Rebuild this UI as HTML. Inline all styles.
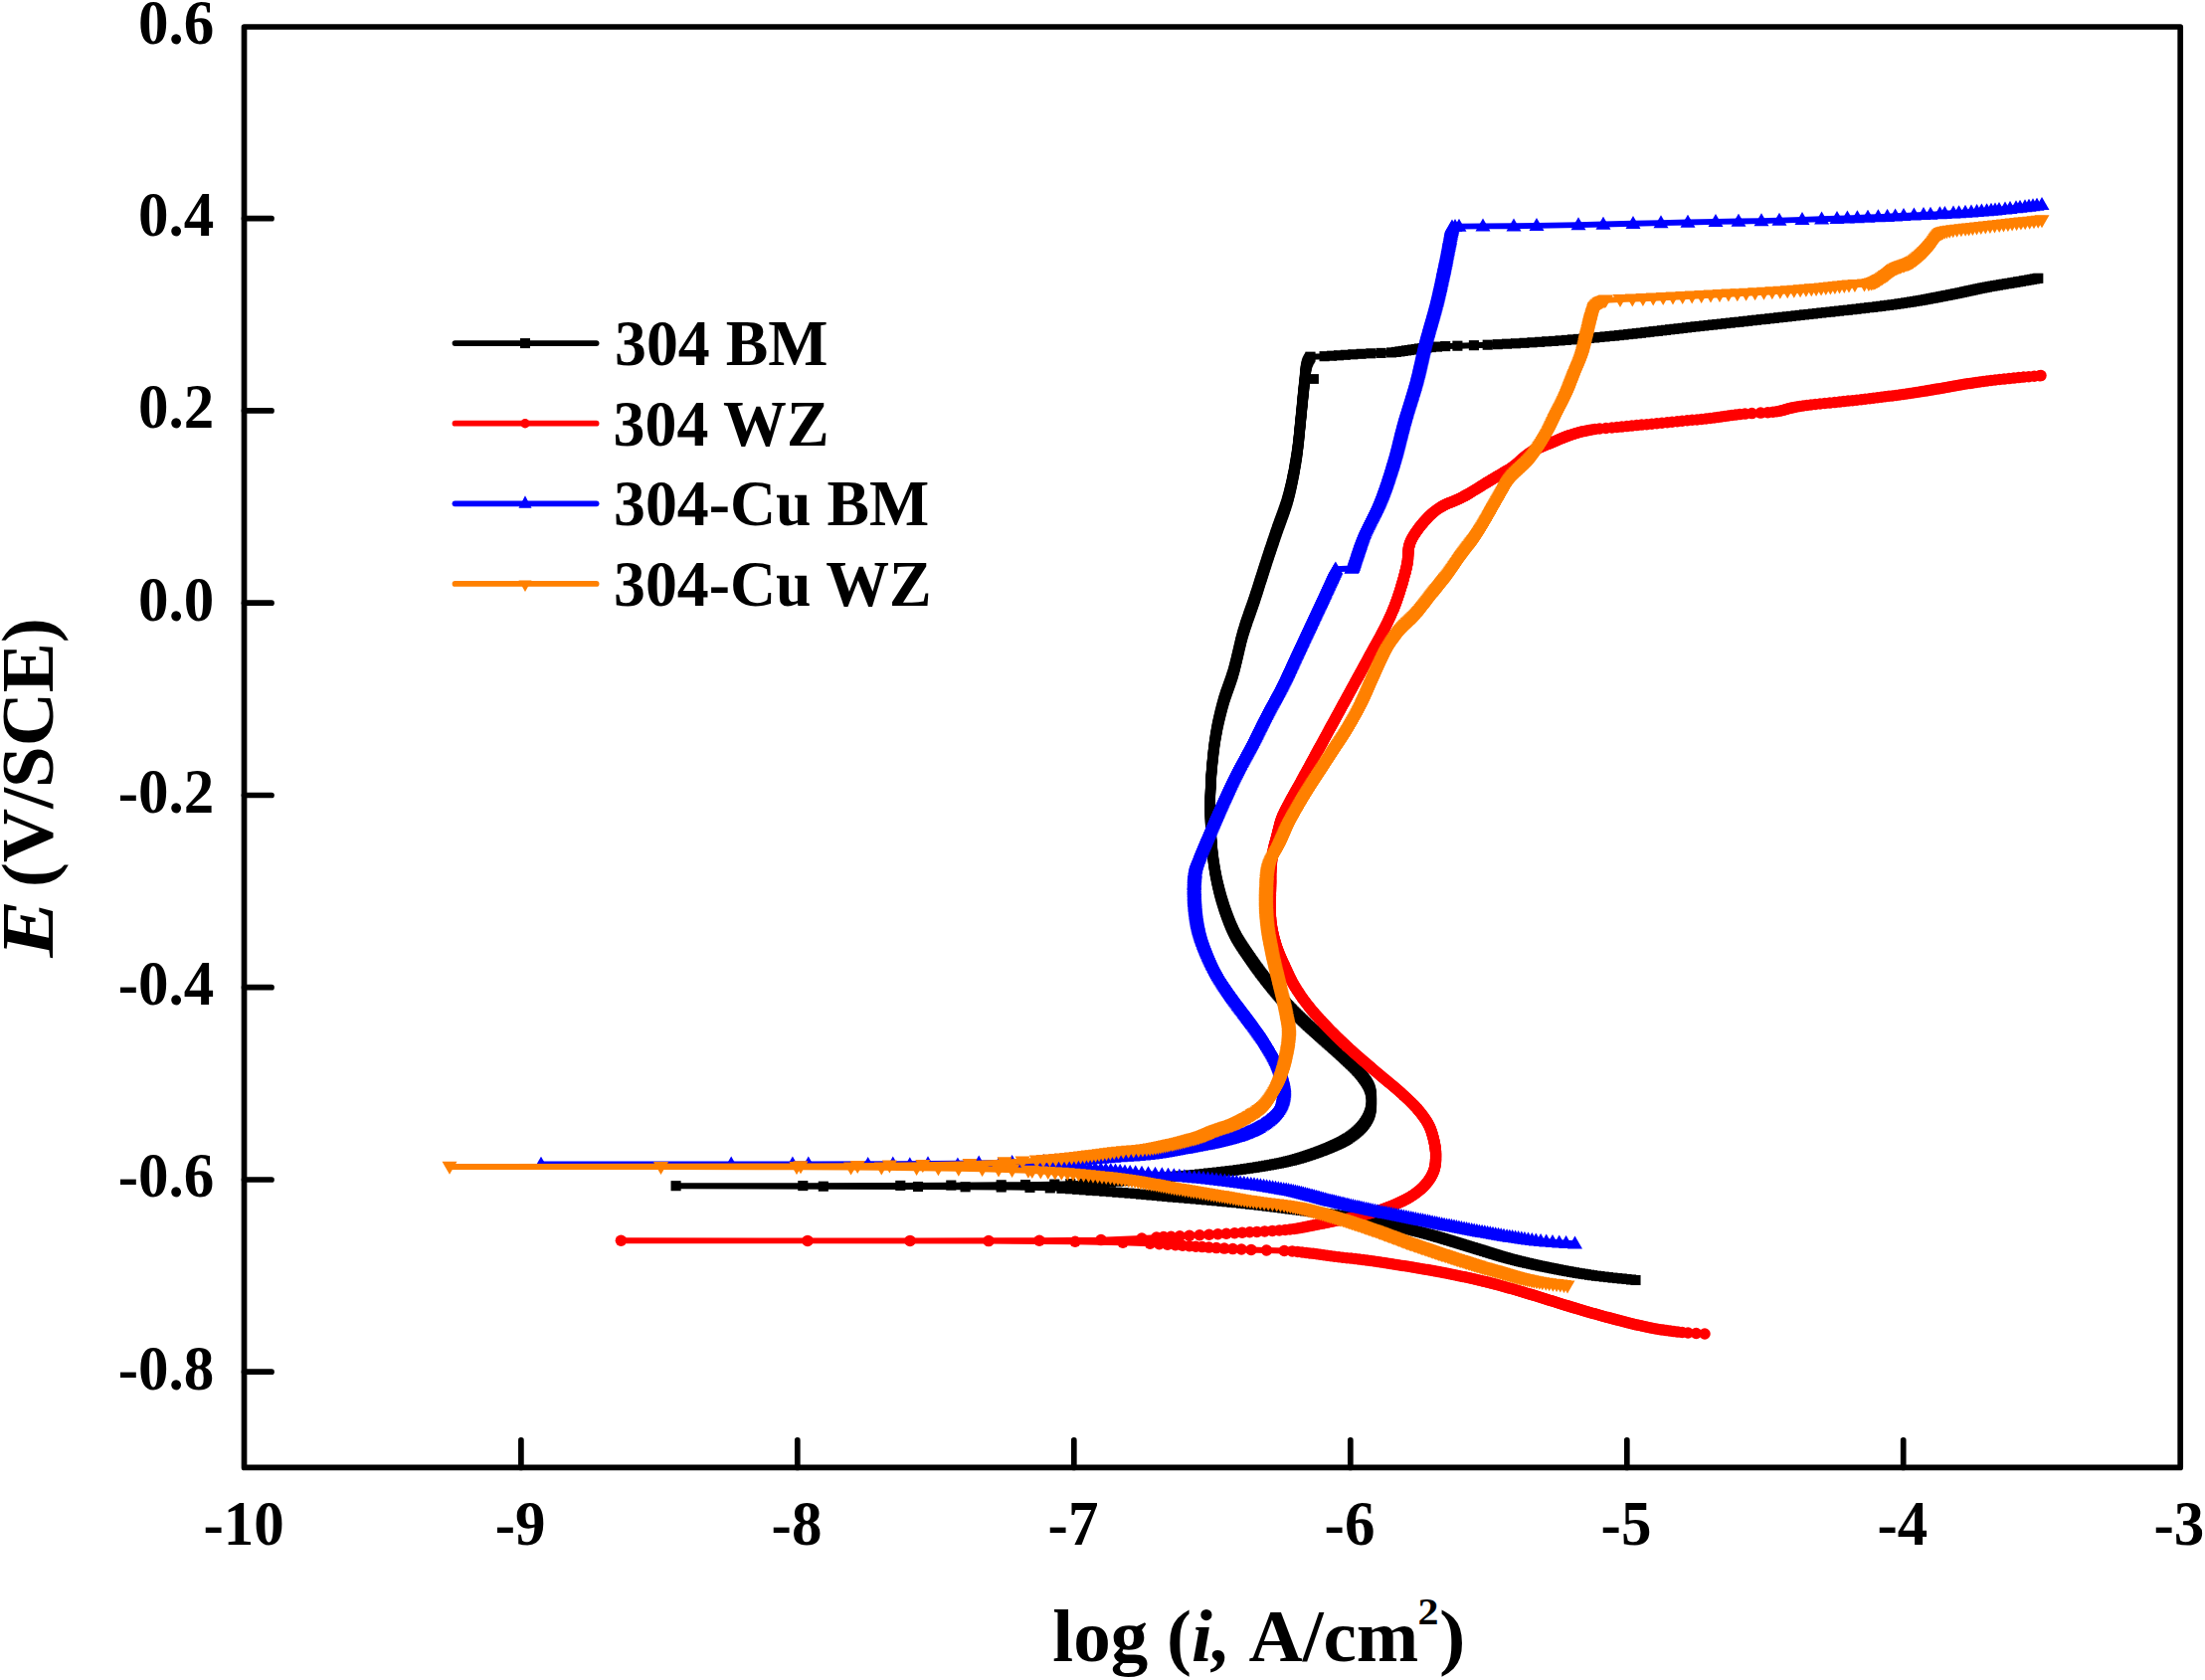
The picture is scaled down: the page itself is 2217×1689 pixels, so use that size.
<!DOCTYPE html>
<html><head><meta charset="utf-8"><title>Polarization curves</title>
<style>
html,body{margin:0;padding:0;background:#fff;}
body{width:2217px;height:1689px;overflow:hidden;}
svg{display:block;}
text{font-family:"Liberation Serif",serif;font-weight:bold;fill:#000;}
.tk{font-size:61px;}
.lg{font-size:63.8px;}
.ti{font-size:75px;}
.cv{fill:none;stroke-width:5.9;stroke-linejoin:round;stroke-linecap:butt;}
</style></head><body>
<svg width="2217" height="1689" viewBox="0 0 2217 1689">
<defs>
<marker id="msq" markerUnits="userSpaceOnUse" markerWidth="12" markerHeight="12" refX="6" refY="6" viewBox="0 0 12 12"><rect x="0.95" y="0.95" width="10.1" height="10.1" fill="#000"/></marker>
<marker id="mci" markerUnits="userSpaceOnUse" markerWidth="14" markerHeight="14" refX="7" refY="7" viewBox="0 0 14 14"><circle cx="7" cy="7" r="5.75" fill="#ff0000"/></marker>
<marker id="mup" markerUnits="userSpaceOnUse" markerWidth="16" markerHeight="16" refX="8" refY="8" viewBox="0 0 16 16"><polygon points="0.5,13.2 15.5,13.2 8,0.2" fill="#0000ff"/></marker>
<marker id="mdn" markerUnits="userSpaceOnUse" markerWidth="16" markerHeight="16" refX="8" refY="8" viewBox="0 0 16 16"><polygon points="0.5,2.8 15.5,2.8 8,15.8" fill="#ff8000"/></marker>
</defs>
<rect width="2217" height="1689" fill="#fff"/>

<polyline id="black" class="cv" stroke="#000" marker-start="url(#msq)" marker-mid="url(#msq)" marker-end="url(#msq)" points="1644.5,1287 1640,1286.5 1635.5,1286 1630.7,1285.5 1626.2,1285.1 1621.5,1284.6 1617,1284.1 1612.7,1283.6 1608.5,1283.1 1604.9,1282.7 1601.2,1282.2 1598,1281.7 1594.7,1281.2 1591.7,1280.7 1588.7,1280.3 1585.7,1279.8 1583,1279.3 1580.1,1278.8 1577.4,1278.3 1574.9,1277.9 1572.3,1277.4 1569.8,1276.9 1567.1,1276.4 1564.7,1275.9 1562.2,1275.4 1560,1275 1557.6,1274.5 1555.1,1274 1552.7,1273.5 1550.5,1273.1 1548.3,1272.6 1545.8,1272.1 1543.6,1271.6 1541.4,1271.1 1539.2,1270.6 1537,1270.1 1535.1,1269.7 1532.9,1269.2 1530.9,1268.7 1529,1268.3 1527,1267.8 1525.1,1267.3 1523.2,1266.8 1521.2,1266.3 1519.5,1265.9 1517.6,1265.4 1515.9,1264.9 1514.2,1264.4 1512.6,1264 1510.9,1263.5 1509.2,1263 1507.5,1262.5 1505.8,1262 1504.4,1261.5 1502.7,1261 1501.3,1260.6 1499.6,1260.1 1498.2,1259.6 1496.5,1259.1 1495.1,1258.7 1493.4,1258.1 1492,1257.7 1490.5,1257.2 1488.9,1256.7 1487.4,1256.3 1485.7,1255.8 1484.3,1255.3 1482.6,1254.8 1481,1254.3 1479.5,1253.9 1477.8,1253.4 1476.4,1252.9 1474.7,1252.4 1473.1,1251.9 1471.6,1251.5 1469.9,1250.9 1468.5,1250.5 1466.8,1250 1465.4,1249.5 1463.7,1249 1462.3,1248.6 1460.6,1248.1 1459.2,1247.6 1457.5,1247.1 1456.1,1246.7 1454.4,1246.2 1452.7,1245.7 1451.3,1245.2 1449.6,1244.7 1447.9,1244.2 1446.2,1243.8 1444.6,1243.3 1442.9,1242.8 1441.2,1242.3 1439.5,1241.9 1437.6,1241.3 1435.9,1240.9 1434.2,1240.4 1432.2,1239.9 1430.5,1239.4 1428.6,1238.9 1426.9,1238.5 1424.9,1238 1423.2,1237.6 1421.2,1237.1 1419.3,1236.6 1417.3,1236.1 1415.4,1235.6 1413.4,1235.1 1411.5,1234.7 1409.3,1234.1 1407.3,1233.7 1405.4,1233.2 1403.2,1232.7 1401.2,1232.3 1399,1231.8 1396.8,1231.3 1394.7,1230.8 1392.5,1230.3 1390.4,1229.9 1388,1229.4 1385.9,1228.9 1383.5,1228.4 1381.1,1227.9 1378.7,1227.4 1376.3,1227 1373.9,1226.5 1371.4,1226 1368.9,1225.6 1366.1,1225 1363.5,1224.6 1360.5,1224.1 1357.7,1223.6 1354.7,1223.1 1351.6,1222.7 1348.4,1222.2 1344.9,1221.7 1341.7,1221.2 1338.1,1220.7 1334.5,1220.3 1330.8,1219.8 1327.2,1219.3 1323.3,1218.8 1319.5,1218.3 1315.7,1217.9 1311.9,1217.4 1308,1216.9 1304.2,1216.4 1300.5,1215.9 1296.7,1215.5 1293.1,1215 1289.3,1214.5 1285.5,1214 1281.6,1213.5 1277.7,1213.1 1273.8,1212.6 1269.7,1212.1 1265.6,1211.6 1261.2,1211.1 1257,1210.7 1252.5,1210.2 1248,1209.7 1243.2,1209.2 1238.5,1208.8 1233.5,1208.3 1228.5,1207.8 1223.2,1207.3 1218.3,1206.8 1212.8,1206.4 1207.3,1205.9 1201.5,1205.4 1195.5,1204.9 1189.8,1204.4 1184,1203.9 1178.5,1203.5 1173.2,1203 1168,1202.5 1162.8,1202 1157.5,1201.5 1152.3,1201.1 1147,1200.6 1141.3,1200.1 1135.5,1199.6 1129.5,1199.2 1123.3,1198.7 1116.8,1198.2 1110.3,1197.7 1103.3,1197.2 1096.6,1196.8 1090,1196.3 1083.2,1195.8 1076.1,1195.3 1067.5,1194.8 1055.8,1194.4 1035.5,1193.9 1006.7,1193.5 970.6,1193.3 923,1193 827.8,1192.7 679.6,1192.2 807.3,1192.1 905.3,1191.9 956.3,1191.6 1006.7,1191.3 1031,1191.1 1060.3,1190.6 1076.3,1190.1 1089,1189.6 1099.6,1189.2 1108.7,1188.7 1117,1188.2 1124.5,1187.7 1131.2,1187.2 1137.6,1186.7 1143.6,1186.3 1149.2,1185.8 1154.6,1185.3 1160.2,1184.8 1165.4,1184.3 1170.7,1183.9 1175.9,1183.4 1181.1,1182.9 1186.2,1182.4 1191.3,1181.9 1196.3,1181.5 1201.2,1181 1206.1,1180.5 1210.7,1180 1215.1,1179.5 1219.5,1179.1 1223.7,1178.6 1228.2,1178.1 1232.4,1177.6 1236.6,1177.1 1240.6,1176.7 1244.6,1176.2 1248.3,1175.7 1251.8,1175.2 1255.3,1174.7 1258.5,1174.2 1261.5,1173.8 1264.4,1173.3 1267.4,1172.8 1270.1,1172.4 1273.1,1171.8 1275.9,1171.4 1278.6,1170.9 1281.1,1170.4 1283.6,1169.9 1286.1,1169.5 1288.5,1169 1290.7,1168.5 1292.9,1168 1294.8,1167.5 1297,1167 1298.9,1166.6 1300.8,1166.1 1302.5,1165.6 1304.2,1165.1 1306,1164.6 1307.5,1164.2 1309,1163.7 1310.7,1163.2 1312.2,1162.7 1313.7,1162.2 1315.2,1161.7 1316.7,1161.2 1317.9,1160.8 1319.4,1160.3 1320.8,1159.8 1322.3,1159.3 1323.4,1158.9 1324.8,1158.4 1326,1157.9 1327.4,1157.4 1328.7,1156.9 1329.9,1156.5 1331.2,1156 1332.3,1155.5 1333.5,1155 1334.6,1154.6 1335.8,1154.1 1337,1153.6 1338.1,1153.1 1339.3,1152.6 1340.3,1152.2 1341.5,1151.6 1342.4,1151.2 1343.6,1150.7 1344.5,1150.3 1345.7,1149.7 1346.6,1149.3 1347.7,1148.8 1348.6,1148.3 1349.4,1147.9 1350.5,1147.3 1351.3,1146.8 1352.2,1146.4 1353,1145.9 1353.8,1145.4 1354.6,1144.9 1355.4,1144.4 1356.9,1143.4 1358.2,1142.5 1359.5,1141.6 1360.7,1140.6 1361.9,1139.7 1363.2,1138.7 1364.3,1137.7 1365.5,1136.7 1366.4,1135.8 1367.4,1134.8 1368.3,1133.9 1369.2,1132.9 1370,1132 1370.8,1131 1371.6,1129.9 1372.2,1129.1 1373,1128 1373.5,1127.1 1374,1126.3 1374.7,1125.2 1375.1,1124.3 1375.6,1123.4 1376.1,1122.3 1376.5,1121.4 1376.8,1120.5 1377.2,1119.5 1377.5,1118.5 1377.8,1117.6 1378,1116.6 1378.2,1115.6 1378.4,1114.6 1378.6,1113.6 1378.7,1112.6 1378.8,1111.3 1378.9,1110.3 1379,1109.3 1379,1108.3 1379,1107 1379,1106 1379,1105.1 1378.9,1104 1378.9,1103 1378.8,1102 1378.6,1100.7 1378.5,1099.7 1378.3,1098.7 1378.1,1097.7 1377.8,1096.5 1377.5,1095.5 1377.2,1094.5 1376.8,1093.6 1376.4,1092.5 1376,1091.6 1375.5,1090.7 1374.9,1089.7 1374.4,1088.8 1373.8,1087.7 1373.2,1086.9 1372.5,1085.9 1371.7,1084.8 1371.1,1084 1370.3,1082.9 1369.7,1082.1 1368.8,1081 1368,1080 1367.3,1079.1 1366.5,1078.2 1365.5,1077.1 1364.7,1076.3 1363.9,1075.4 1362.8,1074.3 1362,1073.4 1360.9,1072.4 1360,1071.5 1358.8,1070.4 1357.9,1069.5 1357,1068.6 1355.8,1067.6 1354.9,1066.7 1353.7,1065.6 1352.8,1064.7 1351.8,1063.8 1350.8,1062.8 1349.7,1061.8 1348.6,1060.8 1347.7,1060 1346.6,1059 1345.5,1058 1344.5,1057.1 1343.4,1056.1 1342.3,1055.1 1341.1,1054.1 1340.2,1053.3 1339,1052.2 1337.9,1051.2 1336.9,1050.4 1335.8,1049.4 1334.6,1048.4 1333.7,1047.5 1332.6,1046.5 1331.4,1045.5 1330.5,1044.7 1329.4,1043.7 1328.3,1042.7 1327.1,1041.7 1326.2,1040.8 1325.1,1039.8 1323.9,1038.8 1322.8,1037.8 1321.7,1036.8 1320.8,1036 1319.6,1035 1318.5,1034 1317.4,1033 1316.5,1032.1 1315.3,1031.1 1314.4,1030.3 1313.3,1029.2 1312.4,1028.3 1311.3,1027.3 1310.2,1026.3 1309.3,1025.4 1308.2,1024.4 1307.2,1023.4 1306.3,1022.5 1305.2,1021.5 1304.3,1020.6 1303.2,1019.6 1302.4,1018.7 1301.3,1017.7 1300.4,1016.8 1299.3,1015.7 1298.5,1014.8 1297.6,1013.9 1296.5,1012.8 1295.7,1011.9 1294.8,1011 1293.9,1010.1 1293,1009.1 1292.2,1008.2 1291.2,1007.1 1290.3,1006.2 1289.5,1005.2 1288.7,1004.3 1287.9,1003.4 1287,1002.4 1286.2,1001.4 1285.4,1000.5 1284.5,999.5 1283.7,998.5 1282.9,997.5 1282.1,996.6 1281.3,995.6 1280.4,994.6 1279.6,993.6 1279,992.8 1278.2,991.8 1277.4,990.8 1276.6,989.8 1275.8,988.9 1275,987.9 1274.3,986.9 1273.5,985.9 1272.8,985 1272.1,984.2 1271.4,983.2 1270.6,982.2 1269.8,981.1 1269.2,980.3 1268.4,979.3 1267.6,978.3 1267,977.5 1266.3,976.5 1265.5,975.4 1264.8,974.4 1264.2,973.6 1263.4,972.6 1262.7,971.6 1262,970.6 1261.4,969.8 1260.7,968.7 1260,967.7 1259.4,966.9 1258.7,965.9 1258,964.9 1257.3,963.8 1256.7,963 1256,962 1255.3,961 1254.7,960.1 1254,959.1 1253.4,958.2 1252.7,957.2 1252,956.2 1251.4,955.3 1250.7,954.3 1250.2,953.5 1249.5,952.4 1248.8,951.4 1248.2,950.5 1247.6,949.5 1247,948.6 1246.4,947.6 1245.8,946.7 1245.2,945.7 1244.7,944.8 1244,943.7 1243.5,942.9 1242.9,941.8 1242.5,940.9 1242,940 1241.4,938.9 1241,938 1240.5,937.1 1240,936 1239.6,935.1 1239.2,934.2 1238.7,933.2 1238.3,932.3 1237.8,931.2 1237.4,930.2 1237,929.3 1236.7,928.4 1236.3,927.5 1235.9,926.5 1235.5,925.6 1235.2,924.7 1234.7,923.5 1234.4,922.5 1234,921.6 1233.7,920.7 1233.3,919.7 1233,918.8 1232.7,917.9 1232.3,916.9 1232,916 1231.7,915 1231.3,914.1 1231,913.1 1230.7,912.2 1230.4,911.2 1230.1,910.2 1229.8,909.3 1229.5,908.3 1229.2,907.3 1228.9,906.3 1228.6,905.4 1228.3,904.4 1228,903.4 1227.7,902.5 1227.5,901.5 1227.2,900.5 1226.9,899.6 1226.7,898.6 1226.4,897.6 1226.2,896.7 1225.9,895.7 1225.7,894.8 1225.5,893.9 1225.2,892.9 1225,892 1224.8,891 1224.5,890 1224.3,888.9 1224,887.7 1223.8,886.6 1223.5,885.6 1223.3,884.6 1223.1,883.6 1222.9,882.4 1222.7,881.4 1222.5,880.4 1222.3,879.4 1222.1,878.5 1221.9,877.5 1221.8,876.5 1221.6,875.6 1221.4,874.6 1221.3,873.6 1221.1,872.7 1221,871.7 1220.8,870.7 1220.6,869.7 1220.5,868.5 1220.3,867.5 1220.2,866.6 1220.1,865.6 1219.9,864.4 1219.8,863.5 1219.7,862.5 1219.6,861.6 1219.4,860.3 1219.3,859.3 1219.2,858.2 1219.1,856.9 1218.9,855.4 1218.8,854.1 1218.7,852.9 1218.6,852 1218.6,851.1 1218.5,850.1 1218.4,849.2 1218.3,848.2 1218.2,847.2 1218.2,846.2 1218.1,844.9 1218,843.9 1217.9,842.9 1217.8,841.6 1217.8,840.5 1217.7,839.5 1217.6,838.2 1217.5,837.1 1217.5,835.8 1217.4,834.8 1217.3,833.7 1217.3,832.4 1217.2,831.4 1217.2,830.1 1217.1,829 1217.1,828 1217,827 1217,825.8 1217,824.8 1216.9,823.8 1216.9,822.8 1216.9,821.8 1216.9,820.8 1216.8,819.5 1216.8,818.5 1216.8,817.5 1216.8,816.5 1216.8,815.5 1216.8,814.3 1216.8,813.3 1216.8,812.3 1216.8,811.3 1216.8,810.2 1216.8,809.2 1216.8,808 1216.8,807 1216.8,806 1216.8,805 1216.8,804 1216.8,803 1216.8,801.7 1216.9,800.7 1216.9,799.7 1216.9,798.7 1216.9,797.7 1217,796.7 1217,795.5 1217.1,794.5 1217.1,793.5 1217.1,792.5 1217.2,791.5 1217.2,790.2 1217.3,789.2 1217.3,788.2 1217.4,787.2 1217.4,786.2 1217.5,785.2 1217.6,784 1217.6,783 1217.7,782 1217.8,781 1217.8,780 1217.9,779 1218,777.7 1218.1,776.7 1218.1,775.7 1218.2,774.7 1218.3,773.7 1218.4,772.5 1218.5,771.5 1218.6,770.5 1218.7,769.5 1218.8,768.5 1218.9,767.5 1219,766.2 1219.1,765.3 1219.2,764.3 1219.3,763.3 1219.4,762.3 1219.5,761.3 1219.6,760.3 1219.7,759 1219.8,758.1 1220,757.1 1220.1,756.1 1220.2,755.1 1220.3,754.1 1220.4,753.1 1220.6,751.8 1220.7,750.9 1220.8,749.9 1221,748.9 1221.1,747.9 1221.2,746.9 1221.4,745.9 1221.6,744.7 1221.7,743.7 1221.9,742.7 1222,741.7 1222.2,740.7 1222.4,739.7 1222.5,738.7 1222.7,737.7 1222.9,736.5 1223.1,735.5 1223.3,734.5 1223.5,733.6 1223.6,732.6 1223.8,731.6 1224,730.6 1224.2,729.6 1224.4,728.7 1224.6,727.7 1224.8,726.7 1225.1,725.7 1225.3,724.5 1225.5,723.5 1225.8,722.5 1226,721.6 1226.2,720.6 1226.5,719.6 1226.7,718.6 1226.9,717.7 1227.2,716.7 1227.4,715.7 1227.7,714.7 1227.9,713.8 1228.2,712.8 1228.4,711.8 1228.7,710.9 1228.9,709.9 1229.3,708.7 1229.5,707.7 1229.8,706.7 1230.1,705.8 1230.3,704.8 1230.6,703.9 1230.9,702.9 1231.3,701.7 1231.6,700.8 1231.9,699.9 1232.2,698.9 1232.5,698 1232.8,697.1 1233.2,696.1 1233.5,695.2 1233.9,694.1 1234.2,693.1 1234.6,692.2 1234.9,691.3 1235.2,690.3 1235.6,689.4 1235.9,688.5 1236.2,687.5 1236.6,686.6 1236.9,685.6 1237.2,684.7 1237.6,683.7 1237.9,682.7 1238.2,681.8 1238.5,680.8 1238.8,679.8 1239.2,678.8 1239.5,677.8 1239.8,676.8 1240.1,675.5 1240.5,674.4 1240.7,673.5 1241,672.6 1241.2,671.6 1241.5,670.7 1241.7,669.7 1241.9,668.8 1242.2,667.8 1242.4,666.8 1242.7,665.9 1242.9,664.9 1243.1,663.9 1243.4,662.9 1243.6,661.9 1243.8,660.9 1244.1,659.7 1244.4,658.7 1244.6,657.7 1244.8,656.7 1245.1,655.6 1245.4,654.4 1245.6,653.4 1245.8,652.4 1246.1,651.4 1246.3,650.4 1246.6,649.1 1246.8,648.1 1247.1,647.1 1247.3,646.1 1247.5,645.1 1247.8,644.2 1248,643.2 1248.3,642.2 1248.6,641 1248.9,640 1249.1,639.1 1249.4,638.1 1249.7,636.9 1250,636 1250.3,635 1250.7,633.8 1251,632.8 1251.3,631.8 1251.6,630.8 1251.9,629.9 1252.2,628.9 1252.5,628 1252.8,627 1253.2,626 1253.5,625.1 1253.8,624.2 1254.1,623.2 1254.4,622.3 1254.9,621.1 1255.2,620.2 1255.5,619.2 1255.8,618.3 1256.2,617.3 1256.5,616.4 1256.8,615.5 1257.2,614.5 1257.5,613.6 1257.8,612.7 1258.2,611.5 1258.6,610.6 1258.9,609.6 1259.2,608.7 1259.6,607.7 1259.9,606.8 1260.2,605.8 1260.5,604.9 1260.9,603.9 1261.2,603 1261.5,602 1261.8,601.1 1262.1,600.1 1262.4,599.2 1262.7,598.2 1263,597.3 1263.4,596.3 1263.7,595.3 1264,594.4 1264.3,593.4 1264.6,592.5 1264.9,591.5 1265.2,590.5 1265.5,589.6 1265.8,588.6 1266.1,587.6 1266.4,586.6 1266.7,585.7 1267,584.7 1267.3,583.7 1267.6,582.8 1268,581.8 1268.3,580.8 1268.6,579.9 1268.9,578.9 1269.2,578 1269.5,577 1269.8,576 1270.1,575.1 1270.4,574.1 1270.7,573.2 1271,572.3 1271.3,571.3 1271.6,570.4 1271.9,569.4 1272.3,568.3 1272.6,567.4 1272.9,566.5 1273.2,565.5 1273.5,564.5 1273.8,563.5 1274.1,562.6 1274.4,561.6 1274.8,560.6 1275.1,559.7 1275.4,558.7 1275.7,557.8 1276,556.8 1276.3,555.9 1276.6,555 1276.9,554 1277.3,553.1 1277.6,552.2 1277.9,551.2 1278.3,550.1 1278.6,549.1 1278.9,548.2 1279.2,547.3 1279.5,546.3 1279.8,545.4 1280.2,544.5 1280.5,543.5 1280.8,542.6 1281.1,541.6 1281.4,540.6 1281.8,539.7 1282.1,538.7 1282.4,537.7 1282.7,536.7 1283.1,535.8 1283.4,534.9 1283.8,533.7 1284.1,532.8 1284.4,531.9 1284.7,531 1285.1,530.1 1285.4,529.1 1285.8,528 1286.2,527.1 1286.5,526.1 1286.8,525.2 1287.2,524.3 1287.5,523.3 1287.9,522.4 1288.2,521.4 1288.6,520.5 1288.9,519.5 1289.3,518.4 1289.7,517.4 1290,516.5 1290.4,515.5 1290.7,514.5 1291,513.6 1291.4,512.6 1291.7,511.7 1292,510.7 1292.3,509.7 1292.7,508.8 1293,507.8 1293.3,506.8 1293.7,505.6 1294,504.6 1294.3,503.7 1294.5,502.7 1294.8,501.7 1295.1,500.7 1295.4,499.8 1295.6,498.8 1295.9,497.9 1296.1,496.9 1296.4,495.9 1296.6,495 1296.8,494 1297.1,493.1 1297.3,492.1 1297.5,491.1 1297.8,490.1 1298,489.2 1298.2,488.2 1298.4,487.2 1298.7,486.2 1298.9,485.2 1299.1,484 1299.3,483 1299.5,482 1299.7,481.1 1299.9,480.1 1300.1,479.1 1300.3,478.1 1300.5,477.1 1300.8,475.9 1301,474.9 1301.1,473.9 1301.3,472.9 1301.5,471.9 1301.7,470.9 1301.8,469.9 1302,468.9 1302.2,467.7 1302.4,466.7 1302.6,465.7 1302.7,464.7 1302.9,463.7 1303.1,462.7 1303.2,461.7 1303.4,460.5 1303.6,459.5 1303.7,458.5 1303.9,457.5 1304,456.5 1304.2,455.5 1304.3,454.5 1304.5,453.2 1304.6,452.2 1304.7,451.2 1304.9,450.2 1305,448.9 1305.1,447.9 1305.3,446.9 1305.4,445.9 1305.5,444.6 1305.6,443.6 1305.7,442.6 1305.8,441.6 1306,440.3 1306.1,439.3 1306.2,438.3 1306.3,437.3 1306.4,436 1306.5,435 1306.6,434 1306.7,433 1306.8,432 1306.9,431 1307,430 1307.1,428.8 1307.2,427.8 1307.3,426.9 1307.4,425.9 1307.5,424.9 1307.6,424 1307.7,423 1307.8,422.1 1307.9,420.9 1308,420 1308.1,418.7 1308.3,417.6 1308.4,416.3 1308.5,415.2 1308.6,414.2 1308.7,412.9 1308.8,411.9 1308.9,410.8 1309,409.6 1309.1,408.5 1309.2,407.5 1309.3,406.5 1309.5,405.3 1309.6,404.3 1309.6,403.3 1309.7,402.3 1309.8,401.3 1309.9,400.3 1310,399.3 1310.1,398.4 1310.2,397.4 1310.3,396.4 1310.4,395.5 1310.5,394.5 1310.6,393.6 1310.7,392.6 1310.8,391.7 1310.9,390.7 1311,389.7 1311.2,388.4 1311.3,387.3 1311.4,386 1311.5,384.6 1311.6,383.5 1311.8,382.1 1311.9,380.7 1312,379.6 1312.1,378.3 1312.2,376.9 1312.3,375.9 1312.5,374.8 1312.6,373.6 1312.7,372.6 1312.9,371.6 1313,370.7 1313.2,369.8 1313.4,368.7 1313.6,367.7 1313.9,366.4 1314.2,365.4 1314.6,364.3 1315,363.4 1315.4,362.5 1316,361.4 1316.5,360.6 1317.1,359.6 1317.5,358.7 1331.6,358.2 1339.1,357.7 1346,357.3 1352.7,356.8 1360.3,356.3 1368.6,355.8 1378.3,355.3 1388.6,354.9 1399.1,354.4 1403.8,353.9 1407.5,353.4 1410.7,352.9 1414.1,352.4 1417.1,352 1420.2,351.5 1423.7,351 1426.9,350.5 1430.4,350.1 1434.5,349.6 1438.9,349.1 1445,348.6 1453.2,348.1 1465.4,347.7 1481.9,347.2 1495.7,346.7 1505.7,346.2 1515,345.7 1524,345.3 1532.5,344.8 1540.5,344.3 1548.2,343.8 1555.2,343.3 1562,342.9 1568.6,342.4 1574.8,341.9 1580.9,341.4 1586.7,340.9 1592.4,340.5 1597.8,340 1603.3,339.5 1608.4,339 1613.6,338.5 1618.6,338 1623.3,337.6 1627.9,337.1 1632.6,336.6 1637.2,336.1 1641.5,335.6 1645.8,335.2 1650,334.7 1654.4,334.2 1658.4,333.7 1662.6,333.2 1666.9,332.8 1670.9,332.3 1675,331.8 1679.1,331.3 1683.4,330.8 1687.6,330.4 1691.7,329.9 1695.9,329.4 1700.1,328.9 1704.5,328.4 1708.7,328 1713.2,327.5 1717.6,327 1721.9,326.5 1726.3,326.1 1730.8,325.6 1735.2,325.1 1739.7,324.6 1744.2,324.1 1748.5,323.7 1753,323.2 1757.3,322.7 1761.8,322.2 1766.1,321.7 1770.7,321.2 1775,320.8 1779.3,320.3 1783.9,319.8 1788.2,319.3 1792.5,318.8 1796.8,318.4 1801,317.9 1805.5,317.4 1809.7,316.9 1814,316.4 1818.4,316 1822.8,315.5 1826.9,315 1831.4,314.5 1835.9,314 1840.4,313.6 1844.6,313.1 1849.1,312.6 1853.6,312.1 1857.8,311.7 1862.3,311.2 1866.5,310.7 1870.9,310.2 1874.9,309.7 1879.2,309.2 1883.2,308.8 1887.4,308.3 1891.2,307.8 1895,307.3 1898.9,306.8 1902.5,306.4 1906.2,305.9 1909.5,305.4 1912.8,304.9 1916.2,304.4 1919.3,303.9 1922.1,303.5 1925,303 1927.9,302.5 1930.7,302.1 1933.4,301.6 1936.1,301.1 1938.7,300.6 1941.3,300.1 1943.9,299.6 1946.2,299.2 1948.7,298.7 1951.3,298.2 1953.8,297.7 1956.3,297.2 1958.6,296.8 1961,296.3 1963.6,295.8 1965.9,295.3 1968.2,294.9 1970.4,294.4 1972.9,293.9 1975.1,293.4 1977.3,292.9 1979.5,292.4 1981.7,292 1983.8,291.5 1986.2,291 1988.4,290.5 1990.8,290 1993.2,289.5 1995.6,289.1 1998,288.6 2000.6,288.1 2003.4,287.6 2006,287.2 2008.9,286.7 2011.8,286.2 2014.6,285.7 2017.7,285.2 2020.4,284.8 2023.3,284.3 2026.4,283.8 2029.1,283.3 2031.8,282.9 2034.8,282.3 2037.4,281.9 2040.3,281.4 2042.9,280.9 2045.7,280.4 2048.3,280 2049.3,279.8"/>
<polyline id="red" class="cv" stroke="#ff0000" marker-start="url(#mci)" marker-mid="url(#mci)" marker-end="url(#mci)" points="1714,1341 1705.4,1340.5 1697.2,1340 1691.3,1339.5 1686.9,1339.1 1682.9,1338.6 1679.3,1338.1 1675.6,1337.6 1672.3,1337.1 1669.3,1336.7 1666.5,1336.2 1663.7,1335.7 1661.1,1335.2 1658.6,1334.7 1656.3,1334.3 1654,1333.8 1651.8,1333.3 1649.7,1332.8 1647.5,1332.3 1645.5,1331.9 1643.5,1331.4 1641.6,1330.9 1639.6,1330.4 1637.6,1329.9 1635.6,1329.4 1633.9,1329 1631.9,1328.5 1630.1,1328 1628.1,1327.5 1626.4,1327.1 1624.4,1326.6 1622.7,1326.1 1620.7,1325.6 1619,1325.1 1617.1,1324.6 1615.4,1324.2 1613.5,1323.7 1611.8,1323.2 1610.1,1322.7 1608.4,1322.3 1606.7,1321.8 1605,1321.3 1603.4,1320.8 1601.7,1320.4 1600,1319.9 1598.3,1319.4 1596.6,1318.9 1594.9,1318.4 1593.2,1317.9 1591.5,1317.4 1590.1,1317 1588.4,1316.5 1586.7,1316 1585.1,1315.5 1583.6,1315.1 1581.9,1314.6 1580.2,1314.1 1578.6,1313.6 1577.1,1313.1 1575.4,1312.6 1574,1312.2 1572.3,1311.7 1570.9,1311.2 1569.2,1310.7 1567.8,1310.3 1566.1,1309.7 1564.7,1309.3 1563.2,1308.8 1561.6,1308.3 1560.1,1307.8 1558.7,1307.4 1557,1306.9 1555.6,1306.4 1554.1,1305.9 1552.5,1305.4 1551,1305 1549.3,1304.4 1547.9,1304 1546.2,1303.5 1544.8,1303 1543.1,1302.5 1541.7,1302.1 1540,1301.6 1538.3,1301.1 1536.9,1300.7 1535.2,1300.2 1533.5,1299.7 1532.1,1299.2 1530.4,1298.7 1528.7,1298.2 1527,1297.7 1525.6,1297.3 1523.9,1296.8 1522.2,1296.3 1520.5,1295.8 1518.8,1295.3 1517.1,1294.9 1515.4,1294.4 1513.8,1293.9 1512.1,1293.4 1510.4,1293 1508.7,1292.5 1506.8,1292 1505.1,1291.5 1503.4,1291.1 1501.5,1290.6 1499.5,1290.1 1497.6,1289.6 1495.6,1289.1 1493.7,1288.6 1491.7,1288.2 1489.8,1287.7 1487.8,1287.2 1485.6,1286.7 1483.7,1286.3 1481.5,1285.8 1479.3,1285.3 1477.1,1284.8 1474.9,1284.3 1472.7,1283.8 1470.5,1283.4 1468.3,1282.9 1465.9,1282.4 1463.7,1281.9 1461.2,1281.4 1458.8,1281 1456.5,1280.5 1454.1,1280 1451.6,1279.6 1448.9,1279 1446.4,1278.6 1443.7,1278.1 1441,1277.6 1438.3,1277.1 1435.6,1276.6 1432.9,1276.2 1430.1,1275.7 1427.2,1275.2 1424.4,1274.7 1421.5,1274.2 1418.8,1273.8 1415.8,1273.3 1412.8,1272.8 1410.1,1272.4 1407.1,1271.9 1404.1,1271.4 1400.9,1270.9 1397.9,1270.4 1394.7,1269.9 1391.7,1269.5 1388.2,1269 1385,1268.5 1381.5,1268 1378,1267.5 1374.5,1267.1 1370.6,1266.6 1366.6,1266.1 1362.6,1265.6 1358.4,1265.1 1354.2,1264.7 1349.9,1264.2 1346,1263.7 1341.7,1263.2 1338,1262.8 1334.3,1262.3 1330.8,1261.8 1327.3,1261.3 1323.9,1260.8 1320.4,1260.3 1316.9,1259.9 1313.2,1259.4 1309.2,1258.9 1304.7,1258.4 1299.3,1257.9 1291.3,1257.5 1273.5,1257 1258,1256.5 1248.2,1256 1239.5,1255.6 1231,1255.1 1223,1254.6 1215.5,1254.1 1208.7,1253.6 1202.3,1253.2 1195.8,1252.7 1189,1252.2 1181.8,1251.7 1173.9,1251.2 1165.6,1250.8 1156.3,1250.3 1129,1249.2 1081,1248.3 994,1247.6 812,1247.4 624.4,1247.3 915,1247.4 1045,1247.2 1107,1246.6 1148,1245 1162.8,1244.1 1169.9,1243.6 1177.4,1243.2 1186.2,1242.7 1195.9,1242.2 1206.1,1241.7 1215.7,1241.2 1224.5,1240.8 1233,1240.3 1241.3,1239.8 1249,1239.3 1256.5,1238.8 1263.8,1238.4 1271.6,1237.9 1279.3,1237.4 1286.3,1236.9 1292.2,1236.4 1297,1236 1301.1,1235.4 1304.4,1235 1307.2,1234.5 1309.9,1234 1312.2,1233.6 1314.8,1233 1317.1,1232.6 1319.5,1232.1 1322,1231.6 1324.4,1231.1 1326.9,1230.6 1329.4,1230.1 1331.6,1229.7 1334.1,1229.2 1336.3,1228.7 1338.8,1228.2 1341.2,1227.8 1343.7,1227.3 1346.2,1226.8 1348.6,1226.3 1351.1,1225.8 1353.6,1225.4 1355.8,1224.9 1358,1224.4 1360.2,1223.9 1362.4,1223.4 1364.6,1222.9 1366.6,1222.5 1368.6,1222 1370.8,1221.5 1372.5,1221.1 1374.4,1220.6 1376.1,1220.1 1378.1,1219.6 1379.5,1219.1 1381.2,1218.6 1382.9,1218.1 1384.3,1217.7 1385.7,1217.2 1387.2,1216.8 1388.9,1216.2 1390.1,1215.8 1391.5,1215.3 1392.9,1214.8 1394.1,1214.3 1395.5,1213.8 1396.7,1213.3 1397.9,1212.9 1399.1,1212.4 1400.2,1211.9 1401.4,1211.4 1402.5,1210.9 1403.7,1210.4 1404.6,1210 1405.8,1209.5 1406.7,1209.1 1407.9,1208.5 1408.8,1208.1 1410,1207.6 1410.9,1207.1 1411.8,1206.7 1412.7,1206.2 1413.9,1205.6 1414.7,1205.1 1415.6,1204.7 1416.5,1204.2 1418,1203.3 1418.8,1202.8 1419.6,1202.3 1421.1,1201.3 1422.4,1200.4 1423.6,1199.5 1424.5,1198.8 1425.7,1197.9 1426.9,1196.9 1428.1,1196 1429,1195.1 1430.1,1194.1 1431.2,1193.1 1432.1,1192.2 1432.9,1191.3 1433.8,1190.2 1434.6,1189.2 1435.3,1188.4 1436,1187.4 1436.8,1186.3 1437.4,1185.5 1438.1,1184.4 1438.6,1183.5 1439.1,1182.6 1439.7,1181.5 1440.1,1180.6 1440.6,1179.7 1441,1178.8 1441.3,1177.9 1441.8,1176.7 1442.1,1175.8 1442.3,1174.8 1442.6,1173.8 1442.8,1172.8 1443,1171.6 1443.2,1170.6 1443.3,1169.5 1443.4,1168.5 1443.5,1167.2 1443.5,1166.2 1443.6,1165.2 1443.6,1163.9 1443.6,1162.9 1443.6,1161.9 1443.6,1160.9 1443.6,1160 1443.6,1158.9 1443.5,1157.7 1443.4,1156.7 1443.3,1155.7 1443.2,1154.7 1443.1,1153.7 1442.9,1152.8 1442.8,1151.8 1442.6,1150.8 1442.4,1149.8 1442.1,1148.5 1441.9,1147.6 1441.7,1146.6 1441.5,1145.7 1441.2,1144.5 1441,1143.6 1440.7,1142.6 1440.5,1141.6 1440.1,1140.4 1439.8,1139.4 1439.5,1138.5 1439.2,1137.5 1438.9,1136.5 1438.5,1135.5 1438.1,1134.6 1437.7,1133.6 1437.3,1132.7 1436.9,1131.8 1436.3,1130.7 1435.9,1129.9 1435.3,1128.8 1434.8,1127.9 1434.1,1126.9 1433.4,1125.8 1432.9,1125 1432.2,1124 1431.6,1123.1 1430.8,1122.1 1430.1,1121.1 1429.4,1120.2 1428.6,1119.2 1427.8,1118.2 1427,1117.2 1426.3,1116.4 1425.5,1115.4 1424.6,1114.3 1423.8,1113.4 1422.9,1112.5 1422.1,1111.6 1421.1,1110.6 1420.2,1109.7 1419.1,1108.6 1418.2,1107.7 1417.2,1106.7 1416.2,1105.8 1415.1,1104.7 1414.2,1103.9 1413.2,1103 1412.1,1101.9 1411.1,1101.1 1410,1100 1408.9,1099 1408,1098.2 1406.9,1097.2 1405.8,1096.2 1404.6,1095.2 1403.5,1094.3 1402.3,1093.3 1401.2,1092.3 1400,1091.3 1399,1090.5 1397.8,1089.5 1396.6,1088.5 1395.5,1087.6 1394.3,1086.6 1393.1,1085.6 1391.9,1084.6 1390.8,1083.7 1389.6,1082.7 1388.7,1081.9 1387.5,1080.9 1386.3,1079.9 1385.2,1078.9 1384,1078 1382.9,1077 1381.7,1076 1380.6,1075 1379.4,1074.1 1378.3,1073.1 1377.3,1072.3 1376.1,1071.3 1375,1070.3 1373.8,1069.3 1372.7,1068.3 1371.5,1067.3 1370.6,1066.5 1369.4,1065.5 1368.3,1064.5 1367.2,1063.5 1366,1062.5 1365.1,1061.7 1364,1060.7 1362.8,1059.7 1361.7,1058.7 1360.7,1057.8 1359.6,1056.8 1358.5,1055.8 1357.5,1055 1356.4,1054 1355.3,1052.9 1354.4,1052.1 1353.3,1051.1 1352.2,1050 1351.3,1049.2 1350.2,1048.2 1349.3,1047.3 1348.2,1046.2 1347.2,1045.4 1346.1,1044.3 1345.2,1043.4 1344.1,1042.4 1343.2,1041.5 1342.3,1040.6 1341.3,1039.5 1340.4,1038.6 1339.3,1037.5 1338.4,1036.7 1337.5,1035.8 1336.5,1034.7 1335.6,1033.8 1334.7,1032.9 1333.7,1031.8 1332.9,1030.9 1332,1030 1331,1028.9 1330.1,1028 1329.2,1027 1328.4,1026.1 1327.5,1025.2 1326.5,1024.1 1325.6,1023.2 1324.8,1022.3 1323.9,1021.3 1323.1,1020.4 1322.3,1019.5 1321.3,1018.3 1320.5,1017.4 1319.7,1016.5 1318.8,1015.5 1318,1014.5 1317.3,1013.6 1316.5,1012.6 1315.7,1011.6 1315.1,1010.8 1314.3,1009.8 1313.5,1008.8 1312.8,1007.8 1312,1006.8 1311.4,1006 1310.6,1005 1309.9,1003.9 1309.3,1003.1 1308.6,1002.1 1307.8,1001 1307.3,1000.2 1306.6,999.2 1306,998.3 1305.3,997.3 1304.8,996.4 1304.1,995.4 1303.4,994.3 1302.9,993.5 1302.3,992.4 1301.7,991.6 1301.1,990.5 1300.6,989.6 1300.1,988.7 1299.6,987.8 1299,986.7 1298.6,985.8 1298.1,984.9 1297.5,983.8 1297.1,982.9 1296.6,982 1296.2,981.1 1295.7,979.9 1295.2,979 1294.8,978.1 1294.4,977.2 1293.9,976.1 1293.5,975.2 1293,974.3 1292.6,973.4 1292.1,972.2 1291.7,971.3 1291.3,970.4 1290.8,969.5 1290.4,968.5 1290,967.6 1289.5,966.5 1289,965.5 1288.6,964.6 1288.2,963.7 1287.8,962.7 1287.4,961.8 1287,960.9 1286.5,959.7 1286.1,958.8 1285.8,957.9 1285.4,956.9 1285,956 1284.7,955.1 1284.3,954.1 1284,953.2 1283.7,952.2 1283.4,951.3 1283,950.3 1282.7,949.3 1282.4,948.4 1282.2,947.4 1281.9,946.4 1281.6,945.5 1281.3,944.5 1281.1,943.5 1280.8,942.5 1280.6,941.6 1280.3,940.6 1280.1,939.6 1279.9,938.6 1279.7,937.6 1279.4,936.4 1279.2,935.4 1279,934.5 1278.9,933.5 1278.7,932.5 1278.5,931.5 1278.4,930.5 1278.2,929.5 1278.1,928.5 1277.9,927.3 1277.8,926.3 1277.7,925.3 1277.6,924.3 1277.6,923.3 1277.5,922.3 1277.4,921 1277.3,920 1277.3,919 1277.2,918 1277.2,917 1277.1,915.8 1277.1,914.8 1277,913.8 1277,912.8 1277,911.8 1277,910.8 1277,909.5 1277,908.5 1277,907.5 1277,906.5 1277,905.5 1277.1,904.3 1277.1,903.3 1277.2,902.3 1277.2,901.3 1277.3,900.3 1277.3,899.3 1277.4,898 1277.4,897 1277.5,896 1277.5,895 1277.5,894 1277.6,893 1277.6,891.7 1277.6,890.7 1277.6,889.7 1277.7,888.7 1277.7,887.7 1277.7,886.4 1277.7,885.4 1277.7,884.4 1277.7,883.1 1277.7,882.1 1277.7,881.1 1277.7,880.1 1277.7,879.1 1277.7,877.8 1277.8,876.8 1277.8,875.9 1277.8,874.9 1277.9,873.9 1277.9,872.9 1278,872 1278.1,870.9 1278.2,869.7 1278.3,868.6 1278.4,867.6 1278.5,866.6 1278.6,865.4 1278.7,864.4 1278.8,863.4 1279,862.4 1279.1,861.4 1279.3,860.4 1279.4,859.5 1279.6,858.5 1279.7,857.5 1280,856.2 1280.1,855.3 1280.3,854.3 1280.6,853.3 1280.8,852.3 1281,851.3 1281.2,850.4 1281.5,849.4 1281.7,848.4 1282,847.4 1282.3,846.5 1282.5,845.5 1282.9,844.2 1283.1,843.3 1283.4,842.3 1283.7,841.3 1283.9,840.3 1284.2,839.3 1284.4,838.3 1284.7,837.4 1284.9,836.4 1285.1,835.4 1285.4,834.5 1285.6,833.5 1285.9,832.3 1286.2,831.3 1286.4,830.3 1286.7,829.3 1286.9,828.3 1287.2,827.3 1287.5,826.4 1287.8,825.4 1288.1,824.4 1288.5,823.4 1288.8,822.5 1289.2,821.5 1289.5,820.6 1289.9,819.7 1290.3,818.8 1290.9,817.7 1291.3,816.8 1291.7,815.9 1292.2,815 1292.7,813.8 1293.2,812.9 1293.7,812 1294.2,811.2 1294.8,810 1295.2,809.1 1295.7,808.2 1296.3,807.1 1296.8,806.2 1297.3,805.3 1297.9,804.2 1298.4,803.3 1298.8,802.5 1299.4,801.4 1299.9,800.5 1300.5,799.4 1301,798.6 1301.4,797.7 1302,796.6 1302.5,795.8 1303.1,794.7 1303.6,793.8 1304.2,792.7 1304.7,791.8 1305.2,791 1305.9,789.8 1306.4,789 1306.9,788.1 1307.4,787.1 1308,786 1308.5,785.2 1309,784.1 1309.5,783.3 1310.1,782.2 1310.6,781.3 1311.2,780.2 1311.6,779.3 1312.1,778.5 1312.7,777.4 1313.2,776.5 1313.7,775.6 1314.3,774.5 1314.8,773.6 1315.3,772.7 1315.8,771.8 1316.4,770.7 1316.9,769.8 1317.3,768.9 1317.9,767.8 1318.4,766.9 1318.9,766 1319.5,764.9 1320,764 1320.5,763.1 1321.1,762 1321.6,761.1 1322,760.3 1322.6,759.2 1323.1,758.3 1323.7,757.2 1324.2,756.3 1324.7,755.4 1325.3,754.3 1325.8,753.4 1326.2,752.6 1326.8,751.5 1327.3,750.6 1327.8,749.7 1328.4,748.6 1328.9,747.7 1329.5,746.6 1330,745.7 1330.4,744.9 1331,743.8 1331.5,742.9 1332,742 1332.6,740.9 1333.1,740 1333.6,739.1 1334.2,738 1334.6,737.2 1335.2,736.1 1335.7,735.2 1336.2,734.3 1336.8,733.2 1337.3,732.3 1337.8,731.4 1338.4,730.3 1338.8,729.5 1339.3,728.6 1339.9,727.5 1340.4,726.6 1341,725.5 1341.5,724.6 1342,723.7 1342.6,722.6 1343,721.8 1343.5,720.9 1344.1,719.8 1344.6,718.9 1345.1,718 1345.7,716.9 1346.2,716 1346.8,714.9 1347.2,714.1 1347.7,713.2 1348.3,712.1 1348.8,711.2 1349.3,710.3 1349.9,709.2 1350.4,708.3 1350.8,707.5 1351.4,706.4 1351.9,705.5 1352.5,704.4 1353,703.5 1353.5,702.6 1354.1,701.5 1354.6,700.6 1355,699.8 1355.6,698.7 1356.1,697.8 1356.6,696.9 1357.2,695.8 1357.7,694.9 1358.3,693.8 1358.8,692.9 1359.2,692.1 1359.8,691 1360.3,690.1 1360.8,689.2 1361.4,688.1 1361.9,687.2 1362.4,686.3 1363,685.2 1363.4,684.4 1364,683.3 1364.5,682.4 1365,681.5 1365.6,680.4 1366.1,679.5 1366.6,678.6 1367.2,677.5 1367.6,676.7 1368.1,675.8 1368.7,674.7 1369.2,673.8 1369.8,672.7 1370.3,671.8 1370.8,670.9 1371.4,669.8 1371.8,669 1372.3,668.1 1372.9,667 1373.4,666.1 1373.9,665.2 1374.5,664.1 1375,663.2 1375.6,662.1 1376,661.3 1376.5,660.4 1377.1,659.3 1377.6,658.4 1378.1,657.5 1378.7,656.4 1379.2,655.5 1379.6,654.7 1380.2,653.6 1380.7,652.7 1381.3,651.6 1381.8,650.7 1382.3,649.8 1382.9,648.7 1383.4,647.9 1383.9,647 1384.5,645.9 1385,645 1385.6,643.9 1386.1,643 1386.6,642.1 1387.2,641 1387.7,640.2 1388.2,639.3 1388.8,638.2 1389.2,637.3 1389.7,636.4 1390.3,635.3 1390.8,634.4 1391.2,633.6 1391.8,632.4 1392.2,631.5 1392.7,630.6 1393.2,629.5 1393.7,628.6 1394.1,627.7 1394.6,626.8 1395.1,625.7 1395.5,624.7 1396,623.8 1396.4,622.9 1396.8,622 1397.3,620.9 1397.8,620 1398.2,619.1 1398.6,618.1 1399,617.2 1399.5,616.1 1399.9,615.1 1400.3,614.2 1400.7,613.3 1401.1,612.4 1401.4,611.4 1401.8,610.5 1402.2,609.5 1402.6,608.4 1403,607.4 1403.3,606.5 1403.7,605.6 1404,604.6 1404.4,603.6 1404.7,602.7 1405,601.7 1405.4,600.8 1405.7,599.8 1406,598.8 1406.3,597.9 1406.7,596.9 1407,595.9 1407.3,595 1407.6,594 1407.9,593 1408.2,592.1 1408.5,591.1 1408.8,590.2 1409,589.2 1409.3,588.3 1409.6,587.4 1409.9,586.5 1410.1,585.5 1410.4,584.5 1410.7,583.5 1411,582.5 1411.3,581.5 1411.6,580.3 1411.9,579.3 1412.2,578.3 1412.4,577.3 1412.7,576.3 1412.9,575.4 1413.2,574.4 1413.4,573.4 1413.6,572.5 1413.9,571.5 1414.1,570.5 1414.3,569.6 1414.5,568.6 1414.7,567.7 1414.9,566.7 1415,565.7 1415.2,564.7 1415.4,563.4 1415.5,562.4 1415.6,561.3 1415.6,560 1415.7,559 1415.8,558 1415.8,556.7 1415.9,555.7 1416,554.6 1416,553.7 1416.2,552.4 1416.3,551.5 1416.4,550.5 1416.7,549.3 1416.9,548.4 1417.2,547.5 1417.5,546.5 1417.8,545.6 1418.2,544.6 1418.6,543.7 1419.1,542.6 1419.5,541.8 1420.1,540.7 1420.6,539.8 1421.1,539 1421.8,537.9 1422.4,536.9 1423,536 1423.6,535.1 1424.3,534.1 1425,533.2 1425.7,532.2 1426.5,531.1 1427.1,530.3 1427.9,529.3 1428.7,528.2 1429.4,527.4 1430.3,526.4 1430.9,525.6 1431.8,524.5 1432.7,523.5 1433.6,522.6 1434.5,521.6 1435.3,520.7 1436.3,519.6 1437.2,518.8 1438.2,517.8 1439.2,516.9 1440.3,515.9 1441.5,514.9 1442.6,514 1443.9,513 1445.3,512 1446.7,511 1448.2,510.1 1449.8,509.1 1450.6,508.7 1451.4,508.2 1452.2,507.8 1453.3,507.3 1454.3,506.8 1455.4,506.3 1456.5,505.8 1457.7,505.4 1458.8,504.9 1460,504.4 1461.2,504 1462.4,503.5 1463.6,503 1464.8,502.4 1465.8,502 1467,501.5 1468,501 1469,500.5 1470,500 1471.6,499.1 1472.6,498.6 1473.5,498.1 1474.3,497.6 1475.2,497.2 1476,496.7 1476.9,496.2 1478.4,495.3 1479.3,494.7 1480.9,493.8 1482.5,492.8 1484,491.9 1485.6,490.9 1487.2,489.9 1488.5,489.1 1489.4,488.5 1491,487.5 1492.5,486.6 1494,485.6 1494.9,485.1 1496.4,484.2 1497.2,483.7 1498,483.2 1499.4,482.4 1500.2,481.9 1501.2,481.3 1502.8,480.4 1503.7,479.8 1505.2,478.9 1506.1,478.4 1507,477.9 1507.9,477.4 1508.7,477 1510.2,476.1 1511,475.6 1511.9,475.1 1512.7,474.6 1513.5,474.1 1514.4,473.6 1515.2,473.1 1516.7,472.2 1517.5,471.7 1519,470.7 1520.2,469.9 1521,469.3 1522.2,468.4 1523.4,467.5 1524.5,466.5 1525.7,465.5 1526.9,464.5 1528,463.5 1529,462.7 1530.1,461.6 1531.3,460.6 1532.5,459.6 1533.4,458.8 1534.6,457.9 1536,456.8 1537.2,455.9 1538.6,454.9 1540,454 1540.9,453.5 1541.8,453 1543.4,452.1 1544.5,451.5 1545.4,451.1 1546.3,450.7 1547.5,450.1 1548.6,449.6 1549.8,449.1 1550.9,448.7 1552.1,448.2 1553.3,447.7 1554.4,447.3 1555.6,446.8 1556.8,446.3 1557.9,445.9 1559.1,445.4 1560.2,444.9 1561.4,444.4 1562.5,443.9 1563.7,443.4 1564.9,442.9 1566,442.4 1566.9,442 1568.1,441.5 1569.3,441 1570.4,440.6 1571.6,440.1 1572.8,439.6 1574.1,439.1 1575.3,438.6 1576.7,438.1 1577.9,437.7 1579.3,437.2 1581,436.7 1582.4,436.2 1584.1,435.7 1585.6,435.3 1587.5,434.8 1589.2,434.3 1591.1,433.8 1593.1,433.4 1595.3,432.9 1597.8,432.4 1600.5,431.9 1603.7,431.5 1608.3,431 1614.7,430.5 1620.7,430 1625.8,429.5 1630.6,429.1 1635.7,428.6 1640.7,428.1 1645.6,427.6 1650.6,427.1 1655.7,426.7 1660.8,426.2 1665.8,425.7 1671,425.2 1676.3,424.7 1681.2,424.3 1686.4,423.8 1691.3,423.3 1696.4,422.8 1701.4,422.3 1706.2,421.9 1710.8,421.4 1715.3,420.9 1719.5,420.4 1723.6,419.9 1727.2,419.5 1730.7,419 1734.2,418.5 1737.7,418 1741.2,417.5 1745,417.1 1749.2,416.6 1754.5,416.1 1761.4,415.6 1770.2,415.1 1777.3,414.7 1782.6,414.2 1786.4,413.7 1789.2,413.2 1791.4,412.7 1793.3,412.3 1795,411.8 1796.6,411.3 1798.3,410.8 1800.2,410.3 1801.9,409.9 1804,409.4 1806.6,408.9 1809.6,408.4 1813,407.9 1816.8,407.5 1820.8,407 1825.2,406.5 1830,406 1834.8,405.5 1839.7,405.1 1844.7,404.6 1849.5,404.1 1853.8,403.6 1858.2,403.1 1862.6,402.7 1866.9,402.2 1871.3,401.7 1875.4,401.2 1879.8,400.7 1883.7,400.3 1887.7,399.8 1891.7,399.3 1895.3,398.8 1899.1,398.3 1902.7,397.9 1906.3,397.4 1909.9,396.9 1913.4,396.4 1916.9,395.9 1920.2,395.5 1923.6,395 1926.8,394.5 1930,394 1932.9,393.5 1936,393.1 1938.8,392.6 1941.8,392.1 1944.5,391.6 1947.2,391.1 1950,390.7 1952.8,390.2 1955.4,389.7 1958.3,389.2 1960.9,388.8 1963.7,388.3 1966.5,387.8 1969.4,387.3 1972.2,386.8 1974.9,386.3 1977.9,385.8 1980.9,385.4 1983.8,384.9 1987,384.4 1990.5,383.9 1994.1,383.5 1997.9,383 2001.9,382.5 2006.1,382 2010.5,381.5 2015.1,381.1 2020,380.6 2024.9,380.1 2029.7,379.6 2034.6,379.1 2039.8,378.7 2045.3,378.2 2050.8,377.7 2052,377.6"/>
<polyline id="blue" class="cv" stroke="#0000ff" marker-start="url(#mup)" marker-mid="url(#mup)" marker-end="url(#mup)" points="1583.5,1250.2 1574.6,1249.7 1567.7,1249.2 1561,1248.8 1554.7,1248.3 1549.1,1247.8 1544.3,1247.3 1540.3,1246.8 1536.5,1246.3 1532.9,1245.9 1529.8,1245.4 1526.6,1244.9 1523.6,1244.4 1520.6,1243.9 1517.8,1243.5 1515.1,1243 1512,1242.5 1509.2,1242 1506.5,1241.5 1503.7,1241 1501,1240.6 1498.3,1240.1 1495.6,1239.6 1492.8,1239.1 1490.1,1238.7 1487.4,1238.2 1484.9,1237.7 1482.2,1237.2 1479.7,1236.8 1477,1236.2 1474.6,1235.8 1472.1,1235.3 1469.4,1234.8 1466.9,1234.3 1464.4,1233.9 1462,1233.4 1459.5,1232.9 1457.1,1232.4 1454.6,1232 1452.1,1231.5 1449.7,1231 1447.2,1230.5 1444.8,1230 1442.6,1229.6 1440.1,1229.1 1437.7,1228.6 1435.5,1228.1 1433,1227.6 1430.6,1227.1 1428.3,1226.7 1425.9,1226.2 1423.4,1225.7 1421,1225.2 1418.8,1224.8 1416.3,1224.3 1413.9,1223.8 1411.4,1223.3 1409,1222.8 1406.5,1222.3 1404,1221.9 1401.6,1221.4 1399.1,1220.9 1396.7,1220.4 1394.2,1219.9 1392,1219.5 1389.6,1219 1387.1,1218.5 1384.9,1218 1382.5,1217.5 1380.2,1217.1 1378,1216.6 1375.8,1216.1 1373.6,1215.6 1371.2,1215.1 1369,1214.6 1366.8,1214.1 1364.8,1213.7 1362.6,1213.2 1360.4,1212.7 1358.2,1212.2 1356,1211.7 1354.1,1211.3 1351.9,1210.8 1350,1210.4 1347.8,1209.8 1345.8,1209.4 1343.6,1208.9 1341.7,1208.4 1339.8,1207.9 1337.8,1207.5 1335.9,1207 1333.9,1206.5 1332.2,1206 1330.3,1205.5 1328.6,1205.1 1326.7,1204.5 1325,1204.1 1323.3,1203.6 1321.4,1203.1 1319.7,1202.6 1318,1202.2 1316.1,1201.7 1314.4,1201.2 1312.5,1200.7 1310.5,1200.2 1308.6,1199.7 1306.6,1199.3 1304.7,1198.8 1302.5,1198.3 1300.3,1197.8 1298.1,1197.4 1295.6,1196.9 1293.2,1196.4 1290.7,1196 1288,1195.5 1285.3,1195 1282.5,1194.5 1279.6,1194 1276.6,1193.5 1273.6,1193.1 1270.6,1192.6 1267.4,1192.1 1264.2,1191.6 1261,1191.1 1257.8,1190.7 1254.3,1190.2 1250.8,1189.7 1247.1,1189.2 1243.3,1188.7 1239.6,1188.3 1235.6,1187.8 1231.4,1187.3 1227.2,1186.8 1223,1186.3 1218.8,1185.9 1214.5,1185.4 1210,1184.9 1205.5,1184.4 1200.8,1184 1195.8,1183.5 1190.8,1183 1185.8,1182.5 1180.3,1182 1174.5,1181.5 1168.3,1181.1 1161.5,1180.6 1154.5,1180.1 1148,1179.6 1141.7,1179.1 1136.2,1178.7 1131,1178.2 1126.2,1177.7 1121.5,1177.2 1116.8,1176.8 1111.8,1176.3 1106.8,1175.8 1101.3,1175.3 1095.6,1174.8 1089.7,1174.4 1083.5,1173.9 1076.8,1173.4 1068.9,1172.9 1058.4,1172.4 1042.3,1172 1031.2,1171.8 1003.9,1171.5 962.9,1171.2 914.8,1171 872.7,1170.8 544,1170.5 735.2,1170.4 796.9,1170.4 812.8,1170.4 897.8,1170.2 933,1170 984.2,1169.4 1017.6,1168.8 1049.6,1167.9 1061.4,1167.4 1071.3,1167 1079.8,1166.5 1087.5,1166 1094.4,1165.5 1101.2,1165 1107.6,1164.6 1113.9,1164.1 1120,1163.6 1126.4,1163.1 1132.9,1162.6 1139.1,1162.2 1144.6,1161.7 1149.7,1161.2 1154.3,1160.7 1158.3,1160.2 1162,1159.7 1165.3,1159.2 1168.4,1158.8 1171.3,1158.3 1174.1,1157.8 1176.7,1157.4 1179.6,1156.8 1182.2,1156.4 1184.7,1155.9 1187.2,1155.4 1189.9,1154.9 1192.3,1154.5 1194.8,1154 1197.3,1153.5 1199.8,1153 1202.5,1152.5 1205.1,1152 1207.6,1151.6 1210.2,1151.1 1212.5,1150.6 1214.8,1150.2 1217.2,1149.6 1219.2,1149.2 1221.4,1148.7 1223.3,1148.2 1225.4,1147.7 1227.4,1147.3 1229.4,1146.8 1231.4,1146.3 1233.2,1145.8 1235.2,1145.3 1236.9,1144.8 1238.7,1144.3 1240.1,1143.9 1241.8,1143.4 1243.2,1142.9 1244.6,1142.5 1246,1142 1247.5,1141.5 1248.7,1141 1249.9,1140.5 1251.2,1140.1 1252.6,1139.5 1253.6,1139.1 1254.7,1138.6 1255.9,1138.1 1257.1,1137.6 1258,1137.2 1259.1,1136.7 1260,1136.2 1261.1,1135.7 1262,1135.2 1262.9,1134.8 1263.7,1134.3 1264.8,1133.7 1265.6,1133.2 1267.1,1132.3 1268.7,1131.3 1269.9,1130.5 1270.8,1129.9 1272.1,1129 1273.3,1128.1 1274.5,1127.1 1275.2,1126.5 1276.4,1125.5 1277.3,1124.7 1278.3,1123.7 1279.4,1122.7 1280.2,1121.8 1281.1,1120.8 1281.9,1119.8 1282.7,1118.8 1283.5,1117.8 1284.1,1117 1284.8,1115.9 1285.3,1115.1 1286,1114 1286.5,1113.1 1287.1,1112 1287.5,1111.1 1287.9,1110.2 1288.3,1109.3 1288.6,1108.4 1289,1107.4 1289.3,1106.5 1289.6,1105.5 1289.8,1104.5 1290,1103.5 1290.3,1102.5 1290.4,1101.5 1290.6,1100.5 1290.8,1099.2 1290.9,1098.2 1290.9,1097.2 1291,1096.2 1291,1095.3 1291,1094.3 1291,1093 1290.9,1092 1290.8,1091 1290.6,1090 1290.5,1089 1290.3,1087.7 1290.1,1086.7 1289.9,1085.7 1289.7,1084.7 1289.4,1083.7 1289.2,1082.7 1288.8,1081.3 1288.6,1080.3 1288.3,1079.4 1288,1078.4 1287.7,1077.5 1287.4,1076.6 1287.1,1075.6 1286.8,1074.7 1286.4,1073.8 1286,1072.8 1285.7,1071.9 1285.3,1070.9 1284.9,1070 1284.4,1069 1284,1068 1283.5,1066.9 1283.1,1066.1 1282.6,1065 1282.2,1064.2 1281.6,1063.1 1281.1,1062.2 1280.7,1061.3 1280.1,1060.2 1279.6,1059.3 1279.1,1058.5 1278.4,1057.3 1277.9,1056.5 1277.4,1055.6 1276.7,1054.5 1276.2,1053.6 1275.6,1052.7 1275,1051.6 1274.4,1050.7 1273.9,1049.8 1273.2,1048.8 1272.6,1047.8 1272,1046.9 1271.4,1045.9 1270.7,1044.9 1270,1043.9 1269.4,1043.1 1268.7,1042.1 1268,1041 1267.4,1040.2 1266.7,1039.2 1265.9,1038.2 1265.3,1037.3 1264.6,1036.3 1263.8,1035.3 1263.2,1034.4 1262.5,1033.4 1261.9,1032.6 1261.1,1031.5 1260.3,1030.4 1259.7,1029.6 1259,1028.7 1258.3,1027.7 1257.6,1026.7 1256.8,1025.7 1256.1,1024.7 1255.3,1023.8 1254.7,1023 1254,1022 1253.2,1021 1252.4,1020 1251.7,1019 1251.1,1018.2 1250.3,1017.1 1249.5,1016.1 1248.7,1015.1 1248.1,1014.3 1247.4,1013.3 1246.6,1012.3 1245.8,1011.3 1245.2,1010.5 1244.5,1009.4 1243.7,1008.4 1243,1007.4 1242.4,1006.6 1241.7,1005.6 1241,1004.6 1240.4,1003.7 1239.7,1002.7 1238.9,1001.7 1238.3,1000.8 1237.6,999.8 1236.9,998.8 1236.3,997.9 1235.6,996.9 1235,996.1 1234.3,995 1233.6,994 1233,993.1 1232.3,992.1 1231.8,991.3 1231.1,990.2 1230.4,989.2 1229.9,988.3 1229.2,987.3 1228.7,986.4 1228,985.4 1227.5,984.5 1226.9,983.5 1226.4,982.6 1225.7,981.6 1225.2,980.7 1224.6,979.6 1224.1,978.7 1223.6,977.8 1223,976.7 1222.5,975.8 1222.1,974.9 1221.5,973.8 1221,972.9 1220.6,972.1 1220,970.9 1219.5,970 1219.1,969.2 1218.5,968 1218.1,967.1 1217.7,966.2 1217.3,965.3 1216.7,964.2 1216.3,963.3 1215.9,962.4 1215.5,961.5 1215.1,960.5 1214.6,959.4 1214.2,958.5 1213.8,957.5 1213.4,956.6 1213,955.7 1212.7,954.8 1212.2,953.6 1211.8,952.7 1211.5,951.8 1211.1,950.9 1210.7,949.9 1210.4,949 1210,948.1 1209.6,946.9 1209.2,946 1208.9,945 1208.6,944.1 1208.2,943.1 1207.9,942.2 1207.6,941.2 1207.3,940.3 1207,939.3 1206.7,938.4 1206.4,937.4 1206.1,936.4 1205.9,935.4 1205.6,934.5 1205.4,933.5 1205.1,932.5 1204.9,931.5 1204.7,930.6 1204.5,929.6 1204.3,928.7 1204.1,927.7 1203.9,926.7 1203.6,925.5 1203.5,924.5 1203.3,923.5 1203.1,922.5 1203,921.6 1202.8,920.6 1202.7,919.6 1202.5,918.6 1202.4,917.3 1202.2,916.3 1202.1,915.3 1202,914.3 1201.9,913.3 1201.7,912 1201.6,911 1201.6,910 1201.5,909 1201.4,908 1201.3,906.7 1201.2,905.7 1201.2,904.7 1201.1,903.7 1201,902.7 1201,901.5 1200.9,900.5 1200.9,899.5 1200.9,898.4 1200.8,897.1 1200.8,896.1 1200.8,894.7 1200.7,893.6 1200.7,892.3 1200.7,891.2 1200.7,889.9 1200.7,888.8 1200.8,887.5 1200.8,886.4 1200.8,885.1 1200.9,884 1200.9,882.7 1201,881.7 1201,880.7 1201.1,879.7 1201.2,878.8 1201.3,877.8 1201.3,876.9 1201.4,876 1201.6,874.4 1201.8,873.2 1202,872.2 1202.2,871.1 1202.5,869.8 1202.7,868.8 1203,867.9 1203.4,866.7 1203.7,865.9 1204,865 1204.4,863.9 1204.8,863 1205.2,862.1 1205.6,861.1 1206,860 1206.5,858.6 1207.1,857.2 1207.4,856.4 1207.8,855.3 1208.2,854.4 1208.6,853.5 1209,852.4 1209.4,851.5 1209.8,850.5 1210.2,849.6 1210.6,848.7 1211,847.7 1211.4,846.7 1211.8,845.8 1212.2,844.8 1212.6,843.8 1213.1,842.9 1213.5,841.9 1213.9,840.9 1214.3,839.9 1214.7,838.9 1215.2,838 1215.6,837 1216,836 1216.4,835.1 1216.7,834.2 1217.1,833.4 1217.6,832.2 1218,831.3 1218.4,830.4 1218.9,829.3 1219.2,828.4 1219.6,827.5 1220,826.5 1220.4,825.6 1220.8,824.7 1221.3,823.5 1221.7,822.6 1222.1,821.7 1222.5,820.7 1222.9,819.8 1223.3,818.8 1223.7,817.9 1224.2,817 1224.6,816 1225,815.1 1225.4,814.1 1225.9,813 1226.3,812 1226.7,811.1 1227.1,810.2 1227.6,809.2 1228,808.3 1228.4,807.4 1228.8,806.5 1229.3,805.3 1229.7,804.4 1230.1,803.5 1230.5,802.6 1231,801.7 1231.5,800.5 1231.9,799.6 1232.3,798.7 1232.7,797.8 1233.2,796.7 1233.6,795.7 1234.1,794.8 1234.5,793.9 1234.9,793 1235.4,791.9 1235.8,791 1236.3,790.1 1236.7,789.1 1237.1,788.2 1237.6,787.1 1238.1,786.2 1238.5,785.3 1238.9,784.4 1239.5,783.2 1239.9,782.3 1240.3,781.4 1240.8,780.5 1241.3,779.4 1241.8,778.5 1242.2,777.6 1242.7,776.7 1243.2,775.6 1243.7,774.7 1244.1,773.8 1244.7,772.7 1245.1,771.8 1245.6,770.9 1246.2,769.8 1246.7,768.9 1247.1,768 1247.7,766.9 1248.2,766.1 1248.7,765.2 1249.3,764.1 1249.7,763.2 1250.2,762.3 1250.8,761.2 1251.3,760.3 1251.9,759.2 1252.4,758.3 1252.9,757.5 1253.5,756.4 1253.9,755.5 1254.4,754.6 1255,753.5 1255.5,752.6 1256,751.7 1256.6,750.6 1257,749.8 1257.5,748.9 1258.1,747.8 1258.5,746.9 1259,746 1259.6,744.9 1260,744 1260.5,743.1 1261.1,742 1261.5,741.1 1262,740.2 1262.5,739.1 1263,738.2 1263.4,737.3 1263.8,736.4 1264.4,735.3 1264.8,734.4 1265.3,733.5 1265.8,732.3 1266.3,731.4 1266.7,730.6 1267.2,729.7 1267.7,728.5 1268.2,727.6 1268.6,726.7 1269.2,725.6 1269.6,724.7 1270,723.8 1270.5,722.9 1271,721.8 1271.5,720.9 1271.9,720 1272.5,718.9 1273,718 1273.4,717.1 1273.9,716.2 1274.5,715.1 1274.9,714.2 1275.4,713.3 1276,712.2 1276.4,711.4 1276.9,710.5 1277.5,709.4 1278,708.5 1278.6,707.4 1279.1,706.5 1279.5,705.6 1280.1,704.5 1280.6,703.7 1281.1,702.8 1281.7,701.7 1282.2,700.8 1282.7,699.9 1283.3,698.8 1283.7,697.9 1284.3,696.8 1284.8,695.9 1285.3,695.1 1285.9,694 1286.3,693.1 1286.8,692.2 1287.4,691.1 1287.9,690.2 1288.3,689.3 1288.9,688.2 1289.3,687.3 1289.8,686.4 1290.3,685.3 1290.8,684.4 1291.2,683.5 1291.7,682.6 1292.2,681.5 1292.7,680.6 1293.1,679.7 1293.5,678.8 1294.1,677.6 1294.5,676.7 1294.9,675.8 1295.3,674.9 1295.7,674 1296.3,672.8 1296.7,671.9 1297.1,671 1297.5,670.1 1298,669 1298.5,668.1 1298.9,667.2 1299.3,666.2 1299.7,665.3 1300.2,664.2 1300.6,663.3 1301.1,662.4 1301.5,661.5 1301.9,660.5 1302.4,659.4 1302.8,658.5 1303.3,657.6 1303.7,656.7 1304.2,655.5 1304.6,654.6 1305.1,653.7 1305.5,652.8 1305.9,651.9 1306.4,650.8 1306.9,649.9 1307.3,649 1307.7,648 1308.2,646.9 1308.7,646 1309.1,645.1 1309.5,644.2 1309.9,643.3 1310.5,642.1 1310.9,641.2 1311.3,640.3 1311.7,639.4 1312.3,638.3 1312.7,637.4 1313.1,636.5 1313.5,635.5 1314,634.6 1314.5,633.5 1314.9,632.6 1315.3,631.7 1315.8,630.8 1316.3,629.6 1316.7,628.7 1317.2,627.8 1317.6,626.9 1318,626 1318.5,624.9 1319,623.9 1319.4,623 1319.8,622.1 1320.2,621.2 1320.8,620 1321.2,619.1 1321.6,618.2 1322.1,617.3 1322.5,616.3 1322.9,615.4 1323.5,614.3 1323.9,613.3 1324.4,612.4 1324.8,611.5 1325.2,610.6 1325.6,609.6 1326.2,608.5 1326.6,607.6 1327,606.7 1327.5,605.8 1327.9,604.8 1328.4,603.7 1328.8,602.8 1329.3,601.9 1329.7,601 1330.2,599.9 1330.6,599 1331.1,597.9 1331.5,597.1 1331.9,596.2 1332.3,595.3 1332.9,594.1 1333.3,593.1 1333.8,592.2 1334.2,591.3 1334.6,590.3 1335,589.4 1335.5,588.5 1335.9,587.6 1336.4,586.4 1336.8,585.5 1337.2,584.6 1337.6,583.7 1338.2,582.6 1338.6,581.7 1339,580.8 1339.4,579.9 1339.9,578.8 1340.3,577.9 1340.7,577 1341.2,575.9 1341.6,575 1342.1,574 1342.5,573.1 1342.9,572.2 1358.9,571.5 1359.6,570.8 1359.9,569.8 1360.3,568.9 1360.6,568 1360.9,567 1361.2,566.1 1361.5,565.2 1361.8,564.2 1362.1,563.3 1362.4,562.3 1362.7,561.4 1363,560.4 1363.3,559.5 1363.7,558.5 1364,557.5 1364.3,556.5 1364.7,555.6 1365,554.7 1365.3,553.5 1365.6,552.6 1365.9,551.7 1366.2,550.8 1366.6,549.7 1366.9,548.8 1367.2,547.9 1367.5,547 1367.8,546 1368.1,545.1 1368.4,544.1 1368.8,543.2 1369.1,542.2 1369.5,541.2 1369.9,540.2 1370.2,539.2 1370.7,538.1 1371.2,536.8 1371.6,535.8 1372.2,534.4 1372.6,533.4 1373.3,532 1373.6,531.1 1374.1,530.1 1374.5,529.2 1375.1,528.1 1375.5,527.3 1376,526.2 1376.5,525.3 1376.9,524.4 1377.3,523.5 1377.9,522.4 1378.4,521.4 1378.8,520.5 1379.3,519.6 1379.8,518.7 1380.3,517.5 1380.8,516.6 1381.3,515.6 1381.8,514.7 1382.2,513.8 1382.7,512.8 1383.1,511.9 1383.6,510.9 1384.1,510 1384.5,509 1385,508.1 1385.4,507.1 1385.8,506.2 1386.3,505.2 1386.7,504.3 1387.1,503.3 1387.5,502.4 1387.9,501.4 1388.4,500.2 1388.8,499.3 1389.1,498.4 1389.5,497.5 1389.9,496.5 1390.2,495.6 1390.6,494.7 1391,493.5 1391.4,492.6 1391.7,491.6 1392.1,490.7 1392.4,489.7 1392.7,488.8 1393.1,487.9 1393.4,486.9 1393.7,486 1394.1,485 1394.4,484 1394.7,483.1 1395,482.1 1395.4,481.2 1395.7,480.2 1396,479.3 1396.3,478.3 1396.6,477.3 1396.9,476.4 1397.3,475.4 1397.6,474.4 1397.9,473.5 1398.2,472.5 1398.5,471.5 1398.8,470.6 1399.1,469.6 1399.4,468.7 1399.7,467.7 1400,466.7 1400.3,465.8 1400.6,464.8 1400.8,463.8 1401.1,462.9 1401.4,461.9 1401.7,461 1402,460 1402.3,459 1402.6,458.1 1402.8,457.1 1403.1,456.1 1403.4,455.2 1403.7,454.2 1403.9,453.2 1404.2,452.3 1404.5,451.3 1404.7,450.3 1405,449.4 1405.2,448.4 1405.5,447.4 1405.8,446.2 1406,445.2 1406.3,444.3 1406.5,443.3 1406.8,442.3 1407,441.3 1407.2,440.4 1407.5,439.4 1407.7,438.4 1408,437.5 1408.2,436.5 1408.5,435.5 1408.7,434.5 1408.9,433.6 1409.2,432.6 1409.4,431.6 1409.7,430.7 1409.9,429.7 1410.2,428.7 1410.4,427.8 1410.7,426.8 1411,425.6 1411.2,424.6 1411.5,423.6 1411.8,422.7 1412,421.7 1412.3,420.7 1412.6,419.8 1412.8,418.8 1413.1,417.8 1413.4,416.9 1413.7,415.9 1414,415 1414.2,414 1414.5,413 1414.8,412.1 1415.1,411.1 1415.4,410.2 1415.7,409.2 1416,408.3 1416.3,407.3 1416.6,406.3 1416.9,405.4 1417.2,404.4 1417.5,403.5 1417.8,402.5 1418.1,401.6 1418.4,400.6 1418.7,399.6 1419,398.7 1419.3,397.7 1419.6,396.8 1419.9,395.6 1420.2,394.6 1420.5,393.7 1420.8,392.7 1421.1,391.8 1421.4,390.8 1421.7,389.8 1422,388.9 1422.3,387.9 1422.5,387 1422.8,386 1423.1,385 1423.4,384.1 1423.6,383.1 1423.9,382.2 1424.2,381.2 1424.4,380.2 1424.7,379.3 1425,378.3 1425.3,377.1 1425.5,376.1 1425.8,375.1 1426,374.2 1426.2,373.2 1426.5,372.2 1426.7,371.2 1427,370.3 1427.2,369.3 1427.4,368.3 1427.6,367.3 1427.9,366.4 1428.1,365.4 1428.3,364.4 1428.5,363.4 1428.8,362.2 1429,361.2 1429.3,360.3 1429.5,359.3 1429.7,358.3 1429.9,357.3 1430.1,356.3 1430.4,355.4 1430.6,354.4 1430.8,353.4 1431,352.4 1431.2,351.5 1431.5,350.5 1431.7,349.5 1432,348.3 1432.2,347.3 1432.4,346.3 1432.7,345.4 1432.9,344.4 1433.1,343.4 1433.4,342.4 1433.6,341.5 1433.9,340.5 1434.1,339.5 1434.4,338.5 1434.6,337.6 1434.9,336.6 1435.1,335.6 1435.4,334.7 1435.7,333.7 1435.9,332.7 1436.2,331.8 1436.5,330.8 1436.8,329.6 1437.1,328.6 1437.4,327.6 1437.6,326.7 1437.9,325.7 1438.2,324.7 1438.5,323.8 1438.7,322.8 1439,321.8 1439.3,320.9 1439.6,319.9 1439.9,318.9 1440.1,317.9 1440.4,317 1440.7,316 1441,315 1441.2,314.1 1441.5,313.1 1441.8,312.1 1442,311.2 1442.3,310.2 1442.6,309.2 1442.8,308.3 1443.1,307.3 1443.4,306.3 1443.6,305.3 1443.9,304.1 1444.2,303.2 1444.5,302.2 1444.7,301.2 1444.9,300.2 1445.2,299.3 1445.4,298.3 1445.7,297.3 1445.9,296.3 1446.1,295.3 1446.4,294.3 1446.7,293 1446.9,292 1447.1,291 1447.4,290 1447.7,288.7 1447.9,287.7 1448.1,286.7 1448.3,285.7 1448.6,284.4 1448.9,283.4 1449.1,282.4 1449.3,281.4 1449.5,280.4 1449.8,279.1 1450,278.1 1450.2,277.1 1450.4,276.1 1450.7,275.1 1450.9,273.9 1451.1,272.9 1451.3,271.9 1451.5,270.9 1451.7,270 1451.9,269 1452.1,268 1452.3,267.1 1452.5,266.1 1452.7,265.2 1452.9,264.3 1453.2,263.1 1453.3,262.2 1453.5,261.3 1453.7,260.4 1453.9,259.5 1454.1,258.3 1454.4,257 1454.7,255.6 1454.9,254.4 1455.2,253 1455.5,251.6 1455.7,250.3 1455.9,249.1 1456.2,247.8 1456.5,246.4 1456.7,245.4 1456.9,244.1 1457.1,243.1 1457.3,242.1 1457.5,241.1 1457.6,240.2 1457.8,239.3 1458.1,237.7 1458.4,236.3 1458.5,235.4 1458.8,234 1459,233 1459.2,231.9 1459.4,231 1459.6,230.1 1459.8,229.2 1460,228.2 1463,227.8 1467,227.6 1491,227.4 1522,227.3 1545,226.9 1587,226.1 1612,225.5 1642,224.8 1670,224.1 1697,223.5 1725,222.9 1748,222.5 1771,222.1 1789,221.6 1812,220.9 1831.6,220.3 1847,219.8 1857.4,219.4 1867.4,219 1878,218.5 1888.4,218.1 1897.6,217.7 1905.6,217.3 1914,216.9 1924.4,216.4 1934,215.9 1941,215.6 1950.4,215.1 1955.4,214.8 1964,214.3 1969.6,214 1976,213.6 1982,213.2 1987.6,212.8 1992.4,212.4 1997.6,212 2002,211.6 2006,211.2 2010,210.9 2016,210.2 2021,209.7 2027,209 2031,208.6 2036,208 2040,207.5 2044,207 2048,206.5 2053,205.8"/>
<polyline id="orange" class="cv" stroke="#ff8000" marker-start="url(#mdn)" marker-mid="url(#mdn)" marker-end="url(#mdn)" points="1576,1292.8 1572.5,1292.3 1568.8,1291.8 1565.1,1291.3 1561.4,1290.9 1557.7,1290.4 1554.3,1289.9 1550.8,1289.4 1547.8,1288.9 1545,1288.5 1542.3,1288 1540,1287.5 1537.6,1287 1535.5,1286.5 1533.5,1286.1 1531.4,1285.5 1529.4,1285.1 1527.8,1284.6 1525.8,1284.1 1524.1,1283.7 1522.2,1283.1 1520.5,1282.7 1518.7,1282.2 1517,1281.7 1515.3,1281.2 1513.6,1280.7 1511.9,1280.3 1510.5,1279.8 1508.7,1279.3 1507,1278.8 1505.3,1278.3 1503.6,1277.8 1502.2,1277.4 1500.5,1276.9 1498.8,1276.5 1497.1,1276 1495.4,1275.5 1493.8,1275 1492.3,1274.6 1490.6,1274.1 1489,1273.6 1487.3,1273 1485.8,1272.6 1484.2,1272.1 1482.7,1271.7 1481.1,1271.2 1479.6,1270.7 1477.9,1270.2 1476.5,1269.7 1474.8,1269.2 1473.4,1268.8 1472,1268.3 1470.3,1267.8 1468.8,1267.3 1467.4,1266.9 1465.7,1266.3 1464.3,1265.9 1462.9,1265.4 1461.2,1264.9 1459.8,1264.4 1458.3,1264 1456.9,1263.5 1455.5,1263 1453.8,1262.5 1452.4,1262 1450.9,1261.5 1449.5,1261.1 1448.1,1260.6 1446.6,1260.1 1445.2,1259.7 1443.8,1259.2 1442.4,1258.7 1440.9,1258.2 1439.5,1257.7 1438.1,1257.2 1436.6,1256.8 1435.2,1256.3 1433.8,1255.8 1432.4,1255.3 1430.9,1254.8 1429.7,1254.4 1428.3,1253.9 1426.9,1253.4 1425.5,1252.9 1424,1252.4 1422.6,1251.9 1421.4,1251.5 1420,1251 1418.6,1250.5 1417.4,1250.1 1416,1249.6 1414.6,1249.1 1413.4,1248.6 1412,1248.1 1410.8,1247.7 1409.4,1247.1 1408.2,1246.7 1406.8,1246.2 1405.6,1245.7 1404.2,1245.2 1403.1,1244.8 1401.6,1244.2 1400.5,1243.8 1399.3,1243.4 1397.9,1242.8 1396.7,1242.4 1395.3,1241.9 1394.1,1241.4 1392.7,1240.9 1391.5,1240.5 1390.1,1239.9 1389,1239.5 1387.5,1239 1386.4,1238.6 1385,1238 1383.5,1237.5 1382.1,1237 1380.9,1236.6 1379.5,1236.1 1378.1,1235.6 1376.7,1235.2 1375.2,1234.7 1373.8,1234.2 1372.4,1233.7 1371.2,1233.3 1369.8,1232.8 1368.3,1232.3 1366.9,1231.8 1365.5,1231.3 1364.1,1230.9 1362.6,1230.4 1361.2,1229.9 1359.5,1229.4 1358.1,1228.9 1356.7,1228.4 1355.2,1228 1353.8,1227.5 1352.1,1227 1350.7,1226.5 1349,1226 1347.6,1225.6 1345.9,1225.1 1344.5,1224.6 1342.9,1224.1 1341.2,1223.6 1339.5,1223.2 1337.8,1222.7 1336.1,1222.2 1334.7,1221.8 1333,1221.3 1331.3,1220.8 1329.6,1220.3 1327.7,1219.8 1326,1219.3 1324.3,1218.8 1322.6,1218.4 1320.7,1217.9 1319,1217.4 1317.1,1216.9 1315.2,1216.5 1313.2,1216 1311.3,1215.5 1309.1,1215 1306.9,1214.5 1304.7,1214 1302.5,1213.6 1300,1213.1 1297.3,1212.6 1294.4,1212.1 1291.1,1211.7 1287.4,1211.2 1283.7,1210.7 1279.4,1210.2 1275.2,1209.7 1271.2,1209.3 1267.2,1208.8 1263.5,1208.3 1260.2,1207.8 1257,1207.3 1254,1206.9 1251.1,1206.4 1248.1,1205.9 1245.4,1205.4 1242.7,1205 1240,1204.5 1237,1204 1234.3,1203.5 1231.6,1203 1228.9,1202.5 1226.2,1202.1 1223.5,1201.6 1220.5,1201.1 1217.8,1200.6 1214.8,1200.1 1212.1,1199.7 1209.1,1199.2 1206.2,1198.7 1203.2,1198.2 1200.2,1197.7 1197.5,1197.3 1194.6,1196.8 1191.6,1196.3 1188.9,1195.8 1185.9,1195.3 1183.2,1194.9 1180.5,1194.4 1177.8,1193.9 1175.1,1193.4 1172.6,1193 1169.9,1192.4 1167.4,1192 1164.9,1191.5 1162.5,1191 1160,1190.5 1157.5,1190.1 1154.8,1189.6 1152.4,1189.1 1149.6,1188.6 1146.9,1188.1 1144.2,1187.7 1141.2,1187.2 1138,1186.7 1134.8,1186.2 1131.3,1185.7 1127.8,1185.3 1124.1,1184.8 1120.4,1184.3 1116.4,1183.8 1112.2,1183.3 1108,1182.9 1103.7,1182.4 1099,1181.9 1094.5,1181.4 1089.5,1180.9 1084.5,1180.5 1079,1180 1073.3,1179.5 1067.3,1179 1060.8,1178.6 1053.8,1178.1 1046.3,1177.6 1037.8,1177.1 1033.9,1176.9 1017.6,1176.2 1004,1175.8 987.6,1175.3 963.8,1174.9 943.4,1174.5 921.6,1174.2 886.3,1173.8 855.6,1173.6 801,1173.3 664.5,1173.1 452,1173 805,1172.5 862.2,1172.2 894.4,1171.8 927.8,1171.3 975,1170.1 1010,1168.5 1028,1167.6 1042.3,1166.6 1049,1166.2 1055.5,1165.7 1061.5,1165.2 1067.3,1164.7 1072.5,1164.2 1077.5,1163.8 1082,1163.3 1086.5,1162.8 1090.4,1162.3 1094.2,1161.8 1097.9,1161.4 1101.6,1160.9 1105.1,1160.4 1108.8,1159.9 1112.5,1159.4 1116.3,1159 1120.2,1158.5 1124.5,1158 1129.4,1157.5 1134.6,1157 1139.7,1156.6 1144.7,1156.1 1148.9,1155.6 1152.9,1155.1 1156.2,1154.6 1159.2,1154.1 1161.9,1153.7 1164.4,1153.2 1166.9,1152.7 1169.2,1152.2 1171.5,1151.8 1173.8,1151.3 1175.9,1150.8 1178.3,1150.3 1180.1,1149.9 1182.2,1149.4 1184.3,1148.9 1186.4,1148.4 1188.2,1147.9 1190.2,1147.4 1191.9,1147 1193.9,1146.5 1195.6,1146 1197.4,1145.5 1199.2,1145 1200.8,1144.6 1202.5,1144.1 1204.1,1143.6 1205.6,1143.1 1207.1,1142.6 1208.8,1142.1 1210,1141.6 1211.3,1141.2 1212.4,1140.7 1213.8,1140.2 1214.9,1139.7 1216,1139.3 1217.3,1138.7 1218.4,1138.3 1219.4,1137.8 1220.5,1137.4 1221.9,1136.8 1223,1136.4 1224.2,1135.9 1225.6,1135.4 1227,1134.9 1228.4,1134.4 1229.9,1133.9 1231.3,1133.5 1232.8,1133 1234,1132.6 1235.4,1132.1 1236.9,1131.6 1238.3,1131.1 1239.5,1130.6 1240.9,1130.1 1242.1,1129.6 1243.2,1129.2 1244.3,1128.7 1245.5,1128.2 1246.4,1127.7 1247.4,1127.3 1248.5,1126.7 1249.5,1126.2 1250.4,1125.8 1251.3,1125.3 1252.2,1124.8 1253.2,1124.3 1254.7,1123.4 1255.6,1122.9 1256.5,1122.4 1257.3,1121.9 1258.8,1121 1259.6,1120.5 1260.4,1120 1261.2,1119.5 1262.7,1118.6 1264.2,1117.6 1265.5,1116.7 1266.3,1116.2 1267.7,1115.2 1268.9,1114.3 1270.2,1113.2 1271.1,1112.4 1272.2,1111.4 1273.1,1110.5 1274.1,1109.4 1274.9,1108.5 1275.7,1107.5 1276.5,1106.5 1277.1,1105.6 1277.8,1104.6 1278.4,1103.7 1279.1,1102.7 1279.7,1101.8 1280.4,1100.7 1280.9,1099.9 1281.5,1098.8 1282,1098 1282.6,1096.9 1283.1,1096 1283.6,1095.1 1284.1,1094 1284.5,1093.1 1284.9,1092.2 1285.3,1091.3 1285.8,1090.1 1286.2,1089.2 1286.6,1088.2 1286.9,1087.2 1287.4,1086 1287.8,1084.8 1288.1,1084 1288.4,1083.1 1288.7,1082.2 1289.1,1081 1289.4,1080.1 1289.7,1079.1 1290,1078.1 1290.3,1077.2 1290.5,1076.2 1290.9,1074.9 1291.2,1073.9 1291.4,1072.9 1291.7,1071.9 1291.9,1070.9 1292.2,1069.6 1292.5,1068.6 1292.7,1067.5 1292.9,1066.3 1293.1,1065.3 1293.3,1064.3 1293.5,1063.4 1293.7,1062.4 1293.9,1061.4 1294.1,1060.4 1294.3,1059.4 1294.5,1058.1 1294.6,1057.1 1294.8,1056.1 1295,1055.1 1295.1,1053.8 1295.3,1052.7 1295.4,1051.7 1295.5,1050.4 1295.7,1049.4 1295.7,1048.4 1295.8,1047.4 1295.9,1046.2 1296,1045.2 1296,1044.2 1296,1043.2 1296,1042.2 1296,1041.2 1295.9,1040.2 1295.9,1038.9 1295.8,1037.9 1295.7,1037 1295.6,1036 1295.5,1035 1295.3,1034.1 1295.2,1033.1 1295,1032.1 1294.8,1031.2 1294.6,1030.2 1294.4,1029.2 1294.2,1028.2 1294,1027.2 1293.8,1026 1293.6,1024.9 1293.4,1023.9 1293.1,1022.5 1292.9,1021.6 1292.7,1020.7 1292.6,1019.8 1292.3,1018.6 1292.1,1017.7 1291.9,1016.8 1291.7,1015.8 1291.5,1014.9 1291.3,1013.9 1291,1012.9 1290.8,1011.9 1290.6,1011 1290.4,1010 1290.1,1009 1289.8,1007.7 1289.6,1006.7 1289.3,1005.7 1289.1,1004.7 1288.8,1003.7 1288.6,1002.7 1288.3,1001.5 1288,1000.5 1287.8,999.4 1287.5,998.4 1287.3,997.4 1287,996.2 1286.8,995.2 1286.5,994.2 1286.3,993.2 1286.1,992.2 1285.8,991.3 1285.6,990.3 1285.4,989.3 1285.1,988.3 1284.8,987.1 1284.6,986.1 1284.4,985.2 1284.1,984.2 1283.9,983.2 1283.7,982.3 1283.4,981.3 1283.2,980.3 1282.9,979.3 1282.7,978.4 1282.5,977.4 1282.2,976.4 1282,975.4 1281.8,974.5 1281.5,973.5 1281.3,972.5 1281,971.3 1280.8,970.3 1280.6,969.3 1280.3,968.4 1280.1,967.4 1279.9,966.4 1279.7,965.4 1279.5,964.4 1279.3,963.5 1279.1,962.5 1278.9,961.5 1278.7,960.5 1278.5,959.5 1278.3,958.3 1278.1,957.3 1277.9,956.3 1277.7,955.3 1277.5,954.3 1277.3,953.3 1277.1,952.4 1276.9,951.1 1276.7,950.1 1276.5,949.1 1276.3,948.1 1276.1,947.1 1276,946.2 1275.8,945.2 1275.6,944.2 1275.4,942.9 1275.3,941.9 1275.1,940.9 1275,940 1274.8,939 1274.7,938 1274.6,937 1274.4,935.7 1274.3,934.7 1274.2,933.7 1274.1,932.7 1274,931.8 1273.9,930.8 1273.8,929.5 1273.7,928.5 1273.6,927.5 1273.5,926.5 1273.4,925.5 1273.4,924.5 1273.3,923.3 1273.2,922.3 1273.2,921.3 1273.1,920.3 1273.1,919.3 1273,918.3 1273,917 1273,916 1272.9,915 1272.9,914 1272.9,913 1272.9,912 1272.9,910.8 1272.9,909.8 1272.9,908.7 1272.9,907.7 1272.9,906.7 1272.9,905.5 1272.9,904.5 1273,903.5 1273,902.5 1273,901.5 1273,900.5 1273.1,899.2 1273.1,898.2 1273.2,897.2 1273.2,895.9 1273.2,894.8 1273.3,893.8 1273.3,892.5 1273.4,891.5 1273.4,890.4 1273.5,889.1 1273.6,888.1 1273.6,887.1 1273.7,885.8 1273.8,884.7 1273.9,883.7 1274,882.5 1274.2,881.5 1274.3,880.5 1274.4,879.5 1274.6,878.5 1274.7,877.5 1274.9,876.6 1275.1,875.6 1275.3,874.7 1275.5,873.8 1275.8,872.9 1276.1,871.7 1276.4,870.7 1276.8,869.5 1277.2,868.6 1277.6,867.6 1278.1,866.5 1278.6,865.5 1279,864.6 1279.5,863.8 1280.1,862.7 1280.6,861.8 1281.2,860.7 1281.7,859.8 1282.3,858.8 1282.8,857.9 1283.3,857 1283.9,856 1284.4,855.1 1285,854 1285.5,853.1 1285.9,852.2 1286.4,851.1 1286.9,850.2 1287.3,849.2 1287.7,848.3 1288.1,847.4 1288.5,846.5 1289,845.3 1289.4,844.4 1289.8,843.5 1290.2,842.6 1290.6,841.6 1291,840.7 1291.5,839.6 1291.9,838.6 1292.3,837.7 1292.7,836.8 1293.1,835.9 1293.6,835 1294.1,833.8 1294.6,832.9 1295,832 1295.4,831.1 1296,830 1296.5,829.1 1296.9,828.2 1297.5,827.1 1298,826.2 1298.5,825.4 1299.1,824.3 1299.5,823.4 1300.1,822.3 1300.6,821.4 1301.1,820.5 1301.7,819.4 1302.2,818.6 1302.7,817.7 1303.4,816.6 1303.9,815.7 1304.5,814.6 1305,813.7 1305.5,812.9 1306.1,811.8 1306.6,810.9 1307.2,809.8 1307.8,809 1308.4,807.9 1308.9,807 1309.4,806.2 1310,805.1 1310.5,804.2 1311.2,803.2 1311.7,802.3 1312.3,801.2 1312.9,800.4 1313.5,799.3 1314,798.4 1314.7,797.4 1315.2,796.5 1315.9,795.4 1316.4,794.6 1317.1,793.5 1317.6,792.6 1318.3,791.6 1318.8,790.7 1319.5,789.7 1320,788.8 1320.7,787.8 1321.2,786.9 1321.9,785.9 1322.5,785 1323.1,784 1323.8,782.9 1324.4,782.1 1325.1,781 1325.6,780.2 1326.3,779.1 1326.9,778.3 1327.6,777.3 1328.2,776.2 1328.8,775.4 1329.5,774.3 1330,773.5 1330.7,772.4 1331.3,771.6 1332,770.5 1332.5,769.7 1333.2,768.6 1333.9,767.6 1334.4,766.7 1335.1,765.7 1335.7,764.8 1336.3,763.8 1336.9,762.9 1337.6,761.9 1338.3,760.8 1338.8,760 1339.5,758.9 1340,758.1 1340.7,757.1 1341.3,756.2 1341.9,755.2 1342.5,754.3 1343.2,753.3 1343.9,752.2 1344.4,751.4 1345.1,750.3 1345.7,749.5 1346.3,748.4 1346.9,747.6 1347.6,746.5 1348.3,745.5 1348.9,744.7 1349.6,743.6 1350.1,742.8 1350.8,741.7 1351.4,740.9 1352.1,739.8 1352.8,738.8 1353.3,737.9 1354,736.9 1354.5,736 1355.2,735 1355.7,734.1 1356.4,733.1 1356.9,732.2 1357.5,731.1 1358,730.3 1358.7,729.2 1359.2,728.3 1359.7,727.4 1360.3,726.3 1360.8,725.5 1361.4,724.4 1361.9,723.5 1362.4,722.6 1363,721.5 1363.5,720.6 1364,719.7 1364.6,718.6 1365,717.8 1365.5,716.9 1366.1,715.8 1366.5,714.9 1367,714 1367.6,712.9 1368,712 1368.5,711.1 1369,709.9 1369.4,709 1369.9,708.1 1370.3,707.2 1370.7,706.3 1371.1,705.4 1371.6,704.2 1372.1,703.3 1372.5,702.4 1372.9,701.4 1373.3,700.5 1373.7,699.6 1374.2,698.5 1374.6,697.5 1375,696.6 1375.4,695.7 1375.8,694.8 1376.2,693.8 1376.7,692.7 1377.1,691.8 1377.5,690.9 1377.9,689.9 1378.3,689 1378.7,688.1 1379.3,686.9 1379.7,686 1380.1,685.1 1380.5,684.2 1380.9,683.3 1381.4,682.1 1381.8,681.2 1382.2,680.3 1382.6,679.3 1383,678.4 1383.5,677.5 1384,676.4 1384.4,675.4 1384.8,674.5 1385.2,673.6 1385.7,672.7 1386.2,671.5 1386.6,670.6 1387.1,669.7 1387.5,668.8 1387.9,667.9 1388.4,666.8 1388.9,665.9 1389.3,665 1389.7,664.1 1390.2,663 1390.7,662 1391.1,661.1 1391.6,660.2 1392.1,659.1 1392.6,658.2 1393,657.3 1393.6,656.2 1394.1,655.3 1394.6,654.4 1395.2,653.3 1395.7,652.4 1396.3,651.6 1396.9,650.5 1397.4,649.7 1398.1,648.6 1398.6,647.8 1399.3,646.7 1399.8,645.8 1400.5,644.8 1401.2,643.7 1401.8,642.9 1402.5,641.8 1403.1,641 1403.9,640 1404.5,639.1 1405.2,638.1 1406,637.1 1406.7,636.1 1407.3,635.3 1408.1,634.3 1408.9,633.3 1409.7,632.4 1410.5,631.4 1411.3,630.5 1412.4,629.4 1413.2,628.5 1414.1,627.6 1415.2,626.5 1416.1,625.7 1417.2,624.6 1418.3,623.6 1419.2,622.8 1420.3,621.8 1421.4,620.7 1422.3,619.9 1423.2,619 1424.2,617.9 1425.1,617 1426,616 1426.8,615.1 1427.6,614.2 1428.6,613 1429.4,612.1 1430.2,611.1 1430.9,610.1 1431.6,609.4 1432.4,608.4 1433.1,607.4 1433.9,606.4 1434.7,605.4 1435.5,604.4 1436.1,603.6 1436.9,602.6 1437.6,601.6 1438.4,600.6 1439,599.8 1439.8,598.8 1440.6,597.8 1441.4,596.8 1442.2,595.8 1442.9,594.8 1443.7,593.8 1444.5,592.9 1445.2,592.1 1446,591.1 1446.8,590.1 1447.6,589.2 1448.4,588.2 1449.2,587.2 1449.9,586.2 1450.7,585.2 1451.5,584.3 1452.3,583.3 1453.1,582.3 1453.7,581.5 1454.5,580.5 1455.3,579.6 1456,578.6 1456.8,577.6 1457.6,576.6 1458.3,575.6 1458.9,574.8 1459.7,573.8 1460.4,572.7 1461,571.9 1461.7,570.9 1462.4,569.8 1463,569 1463.7,568 1464.4,566.9 1465,566.1 1465.7,565.1 1466.4,564 1467,563.2 1467.7,562.2 1468.2,561.4 1468.9,560.3 1469.7,559.3 1470.2,558.5 1471,557.4 1471.7,556.4 1472.3,555.6 1473,554.6 1473.8,553.6 1474.5,552.7 1475.2,551.7 1476,550.8 1476.7,549.8 1477.4,548.9 1478.3,547.7 1479.1,546.8 1479.8,545.8 1480.6,544.9 1481.3,543.9 1481.9,543.1 1482.7,542.1 1483.5,541.1 1484.1,540.2 1484.8,539.2 1485.5,538.3 1486.2,537.2 1486.8,536.2 1487.4,535.4 1488.1,534.3 1488.7,533.3 1489.2,532.5 1489.9,531.5 1490.5,530.5 1491,529.6 1491.7,528.5 1492.2,527.7 1492.7,526.8 1493.4,525.7 1493.9,524.8 1494.4,523.8 1495,522.9 1495.5,522 1496.2,520.9 1496.7,519.9 1497.2,519 1497.7,518.1 1498.3,517.1 1498.8,516.2 1499.3,515.3 1499.8,514.3 1500.5,513.2 1501,512.2 1501.5,511.3 1502,510.4 1502.5,509.5 1503.2,508.4 1503.7,507.5 1504.3,506.4 1504.8,505.6 1505.4,504.5 1505.8,503.7 1506.4,502.7 1507,501.7 1507.6,500.7 1508.1,499.8 1508.7,498.8 1509.3,497.8 1509.8,496.9 1510.3,496 1510.8,495 1511.3,494.2 1511.9,493 1512.4,492.2 1513,491.1 1513.4,490.3 1514,489.2 1514.5,488.4 1515.1,487.3 1515.7,486.3 1516.2,485.5 1516.8,484.5 1517.5,483.5 1518.2,482.5 1518.8,481.6 1519.5,480.6 1520.3,479.6 1521.1,478.7 1521.8,477.8 1522.7,476.9 1523.7,475.8 1524.6,474.9 1525.7,473.9 1526.6,473 1527.7,472 1528.6,471.1 1529.8,470.1 1530.7,469.2 1531.9,468.2 1532.8,467.3 1533.9,466.2 1534.9,465.4 1536,464.3 1536.9,463.4 1537.9,462.4 1538.7,461.5 1539.5,460.6 1540.3,459.6 1541.2,458.6 1542,457.6 1542.8,456.6 1543.5,455.6 1544.2,454.8 1544.9,453.7 1545.7,452.7 1546.3,451.9 1547,450.9 1547.7,449.8 1548.3,449 1549,448 1549.7,446.9 1550.2,446.1 1550.9,445 1551.4,444.2 1552.1,443.2 1552.6,442.3 1553.2,441.3 1553.9,440.2 1554.4,439.3 1554.9,438.5 1555.5,437.3 1556,436.5 1556.5,435.6 1557.1,434.4 1557.5,433.5 1558,432.6 1558.4,431.7 1558.9,430.6 1559.4,429.7 1559.8,428.8 1560.2,427.9 1560.8,426.8 1561.2,425.9 1561.6,425 1562,424.1 1562.6,422.9 1563,422 1563.4,421.1 1563.9,420.2 1564.5,419.1 1564.9,418.2 1565.4,417.3 1565.8,416.4 1566.4,415.3 1566.9,414.4 1567.3,413.5 1567.9,412.4 1568.4,411.5 1568.8,410.6 1569.3,409.7 1569.9,408.6 1570.3,407.7 1570.8,406.8 1571.3,405.6 1571.8,404.7 1572.2,403.8 1572.6,402.9 1573.2,401.8 1573.6,400.9 1574,400 1574.4,399.1 1574.8,398.2 1575.3,397 1575.7,396.1 1576.1,395.1 1576.5,394.2 1576.8,393.3 1577.2,392.4 1577.6,391.4 1577.9,390.5 1578.4,389.3 1578.7,388.4 1579.1,387.5 1579.5,386.5 1579.8,385.6 1580.2,384.7 1580.5,383.7 1580.9,382.8 1581.4,381.6 1581.7,380.7 1582.1,379.8 1582.5,378.8 1582.8,377.9 1583.2,377 1583.6,376.1 1584.1,374.9 1584.5,374 1584.9,373.1 1585.3,372.2 1585.7,371.3 1586.1,370.1 1586.5,369.2 1586.9,368.3 1587.3,367.4 1587.7,366.4 1588,365.5 1588.5,364.3 1588.8,363.4 1589.2,362.4 1589.5,361.5 1589.8,360.5 1590.3,359.1 1590.6,358.1 1590.9,357.2 1591.1,356.2 1591.5,354.9 1591.7,353.9 1592,352.9 1592.3,351.9 1592.5,350.9 1592.8,349.6 1593.1,348.6 1593.3,347.6 1593.5,346.6 1593.8,345.3 1594.1,344.3 1594.3,343.3 1594.5,342.3 1594.7,341.4 1595,340.4 1595.2,339.4 1595.4,338.5 1595.6,337.6 1595.8,336.7 1596.1,335.7 1596.3,334.7 1596.6,333.6 1596.9,332.3 1597.2,331.2 1597.5,330 1597.7,329 1597.9,328 1598.2,327 1598.4,326 1598.7,325.1 1598.9,324.1 1599.1,323.2 1599.4,322.3 1599.6,321.3 1599.9,320.2 1600.2,319.2 1600.6,318 1600.9,317 1601.2,316 1601.5,315.1 1601.8,314.1 1602.1,313.2 1602.5,312 1602.8,311.1 1603.1,310.2 1603.4,309.2 1604,308.4 1604.9,307.5 1605.7,306.5 1606.6,305.6 1607.8,304.6 1608.6,304.1 1609.5,303.7 1610.6,303.2 1611.9,302.7 1613.3,302.2 1614.5,301.8 1629,301.1 1641.3,300.6 1651.9,300.2 1662.2,299.7 1672.2,299.2 1682,298.7 1691.7,298.2 1701.2,297.8 1710.7,297.3 1720,296.8 1729,296.3 1737.9,295.8 1746.8,295.4 1755.6,294.9 1764.6,294.4 1773.5,293.9 1781.8,293.4 1789.8,292.9 1797.2,292.5 1803.8,292 1810.1,291.5 1815.9,291 1821.3,290.5 1826.1,290.1 1831.1,289.6 1835.8,289.1 1840.4,288.6 1844.9,288.2 1849.5,287.7 1854.3,287.2 1859,286.7 1864.9,286.2 1874.5,285.7 1878.9,285.3 1881.3,284.8 1883,284.3 1884.5,283.8 1885.5,283.4 1886.7,282.8 1887.6,282.3 1888.6,281.8 1889.4,281.3 1890.9,280.4 1892.4,279.4 1893.8,278.5 1895.2,277.5 1896,277 1897.3,276.1 1898.5,275.2 1899.8,274.1 1900.9,273.2 1902.1,272.2 1903.4,271.3 1904.3,270.7 1905.8,269.9 1906.8,269.4 1907.9,268.9 1909,268.5 1910.4,267.9 1911.6,267.5 1913.1,267 1914.3,266.6 1915.8,266 1917,265.6 1918.3,265.1 1919.5,264.6 1920.7,264.1 1921.6,263.7 1922.7,263.1 1923.5,262.6 1925,261.6 1926.3,260.7 1927.6,259.7 1928.8,258.7 1929.8,257.9 1931,256.9 1932,256 1933.1,255 1934.2,253.9 1935.1,253.1 1936.1,252.1 1937,251.2 1938,250.2 1938.9,249.2 1939.8,248.3 1940.6,247.3 1941.6,246.2 1942.3,245.3 1943.1,244.4 1943.9,243.4 1944.5,242.5 1945.1,241.6 1945.8,240.5 1946.4,239.6 1947.1,238.6 1947.8,237.7 1948.7,236.7 1949.4,235.8 1950.5,234.9 1951.4,234.3 1952.3,233.9 1953.5,233.4 1955.2,232.9 1957.4,232.5 1960.2,232 1963.7,231.5 1967.6,231 1971.9,230.5 1976.1,230 1979.6,229.6 1983.4,229.1 1987.5,228.6 1991.8,228.2 1996.3,227.7 2000.9,227.2 2005.5,226.7 2010.2,226.2 2014.5,225.7 2018.9,225.3 2023.1,224.8 2027.6,224.3 2031.9,223.8 2036.2,223.4 2040.7,222.9 2045,222.4 2049.2,221.9 2053,221.5"/>
<rect x="1316.1" y="376.1" width="9.8" height="9.8" fill="#000"/>
<rect x="245.5" y="27.0" width="1946.6999999999998" height="1448.4" fill="none" stroke="#000" stroke-width="5.7" stroke-linejoin="round"/>
<g stroke="#000" stroke-width="5.7" stroke-linecap="round">
<line x1="523.9" y1="1475.4" x2="523.9" y2="1447.9"/>
<line x1="801.8" y1="1475.4" x2="801.8" y2="1447.9"/>
<line x1="1079.8" y1="1475.4" x2="1079.8" y2="1447.9"/>
<line x1="1357.8" y1="1475.4" x2="1357.8" y2="1447.9"/>
<line x1="1635.8" y1="1475.4" x2="1635.8" y2="1447.9"/>
<line x1="1913.7" y1="1475.4" x2="1913.7" y2="1447.9"/>
<line x1="245.5" y1="1379.2" x2="273.0" y2="1379.2"/>
<line x1="245.5" y1="1186.0" x2="273.0" y2="1186.0"/>
<line x1="245.5" y1="992.7" x2="273.0" y2="992.7"/>
<line x1="245.5" y1="799.5" x2="273.0" y2="799.5"/>
<line x1="245.5" y1="606.2" x2="273.0" y2="606.2"/>
<line x1="245.5" y1="412.9" x2="273.0" y2="412.9"/>
<line x1="245.5" y1="219.7" x2="273.0" y2="219.7"/>
</g>
<text class="tk" transform="translate(245.1,1553.2) scale(1,1.047)" text-anchor="middle">-10</text>
<text class="tk" transform="translate(523.1,1553.2) scale(1,1.047)" text-anchor="middle">-9</text>
<text class="tk" transform="translate(801.0,1553.2) scale(1,1.047)" text-anchor="middle">-8</text>
<text class="tk" transform="translate(1079.0,1553.2) scale(1,1.047)" text-anchor="middle">-7</text>
<text class="tk" transform="translate(1357.0,1553.2) scale(1,1.047)" text-anchor="middle">-6</text>
<text class="tk" transform="translate(1635.0,1553.2) scale(1,1.047)" text-anchor="middle">-5</text>
<text class="tk" transform="translate(1912.9,1553.2) scale(1,1.047)" text-anchor="middle">-4</text>
<text class="tk" transform="translate(2190.9,1553.2) scale(1,1.047)" text-anchor="middle">-3</text>
<text class="tk" transform="translate(215.3,1396.5) scale(1,1.047)" text-anchor="end">-0.8</text>
<text class="tk" transform="translate(215.3,1203.3) scale(1,1.047)" text-anchor="end">-0.6</text>
<text class="tk" transform="translate(215.3,1010.0) scale(1,1.047)" text-anchor="end">-0.4</text>
<text class="tk" transform="translate(215.3,816.8) scale(1,1.047)" text-anchor="end">-0.2</text>
<text class="tk" transform="translate(215.3,623.5) scale(1,1.047)" text-anchor="end">0.0</text>
<text class="tk" transform="translate(215.3,430.2) scale(1,1.047)" text-anchor="end">0.2</text>
<text class="tk" transform="translate(215.3,237.0) scale(1,1.047)" text-anchor="end">0.4</text>
<text class="tk" transform="translate(215.3,43.7) scale(1,1.047)" text-anchor="end">0.6</text>
<line x1="457.5" y1="345.1" x2="599.6" y2="345.1" stroke="#000" stroke-width="5.8" stroke-linecap="round"/>
<rect x="523" y="340.1" width="10" height="10" fill="#000"/>
<text class="lg" transform="translate(618.0,367.1) scale(1,1.02)" text-anchor="start">304 BM</text>
<line x1="457.5" y1="425.7" x2="599.6" y2="425.7" stroke="#ff0000" stroke-width="5.8" stroke-linecap="round"/>
<circle cx="528" cy="425.7" r="4.7" fill="#ff0000"/>
<text class="lg" transform="translate(616.6,447.7) scale(1,1.02)" text-anchor="start">304 WZ</text>
<line x1="457.5" y1="506.3" x2="599.6" y2="506.3" stroke="#0000ff" stroke-width="5.8" stroke-linecap="round"/>
<polygon points="521.5,510.8 534.5,510.8 528,498.3" fill="#0000ff"/>
<text class="lg" transform="translate(617.0,528.3) scale(1,1.02)" text-anchor="start">304-Cu BM</text>
<line x1="457.5" y1="586.9" x2="599.6" y2="586.9" stroke="#ff8000" stroke-width="5.8" stroke-linecap="round"/>
<polygon points="521.5,583.4 534.5,583.4 528,594.9" fill="#ff8000"/>
<text class="lg" transform="translate(617.0,608.9) scale(1,1.02)" text-anchor="start">304-Cu WZ</text>
<text class="ti" transform="translate(1058.3,1669.8)" text-anchor="start">log (<tspan font-style="italic">i,</tspan></text>
<text class="ti" transform="translate(1255.5,1669.8)" text-anchor="start">A/cm</text>
<text class="ti" transform="translate(1425.5,1633.2) scale(1.12,1)" text-anchor="start" style="font-size:37.5px">2</text>
<text class="ti" transform="translate(1447.0,1669.8) scale(1.06,1)" text-anchor="start">)</text>
<text class="ti" transform="translate(52.9,962.6) rotate(-90) scale(1.15,1)" text-anchor="start" font-style="italic">E</text>
<text class="ti" transform="translate(52.9,892.0) rotate(-90)" text-anchor="start">(V/SCE)</text>
</svg></body></html>
